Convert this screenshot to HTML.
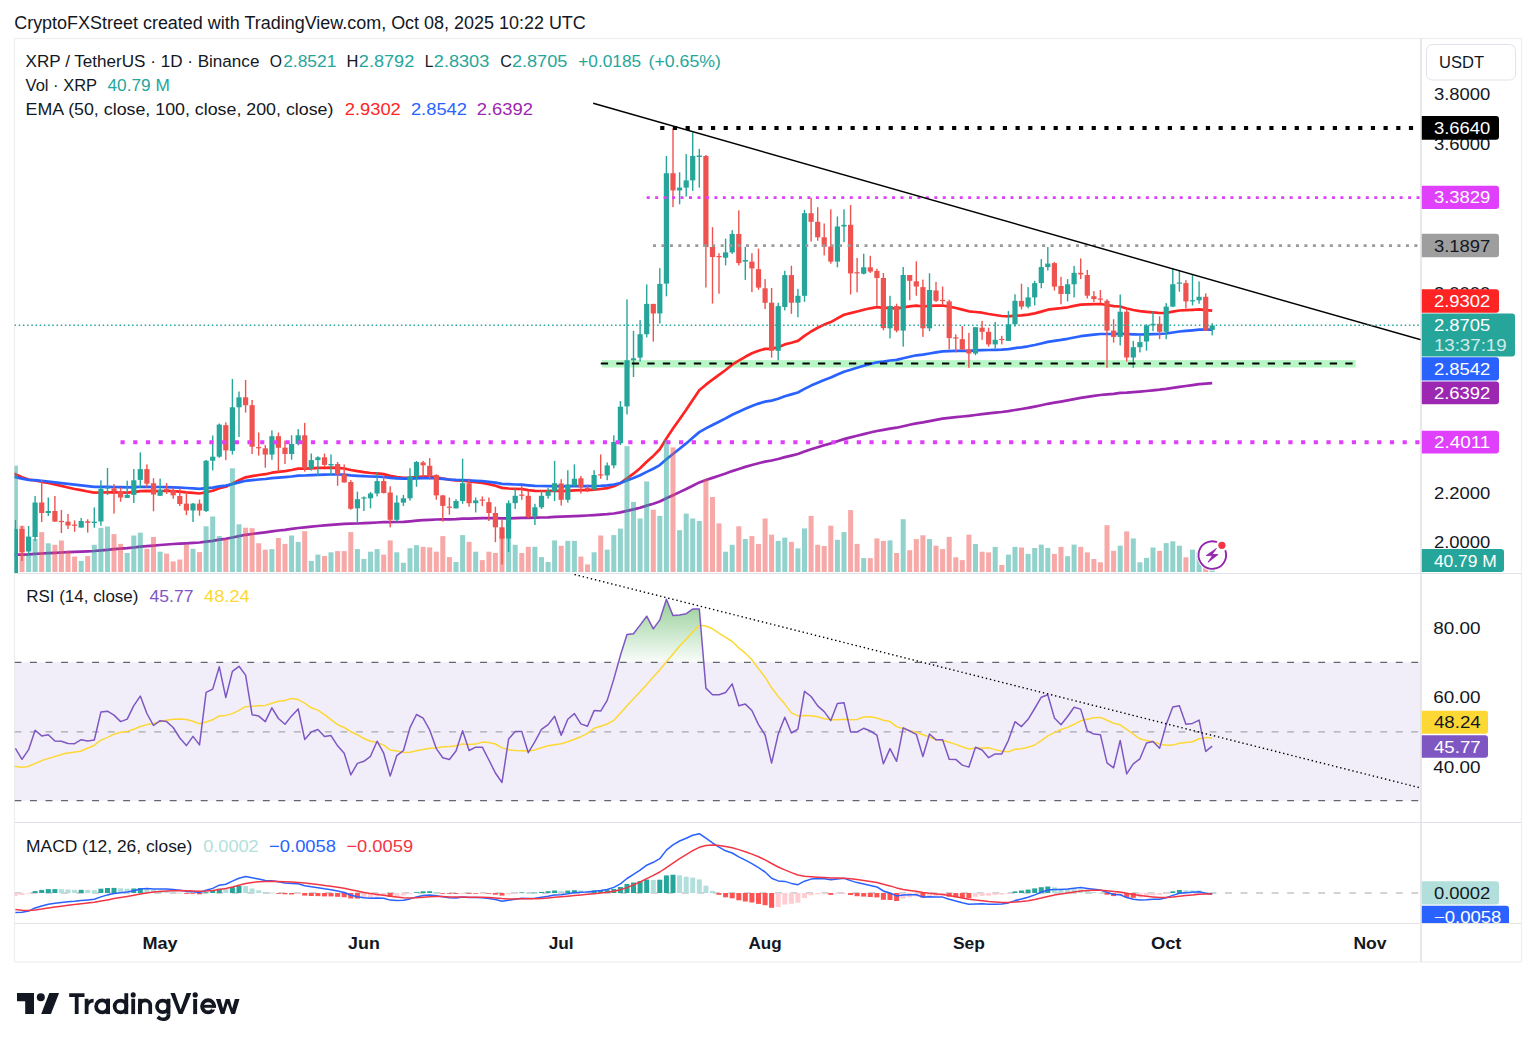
<!DOCTYPE html><html><head><meta charset="utf-8"><title>chart</title><style>
html,body{margin:0;padding:0;background:#fff;}body{width:1536px;height:1047px;overflow:hidden;position:relative;}
svg{position:absolute;left:0;top:0;} text{font-family:"Liberation Sans",sans-serif;}
</style></head><body>
<svg width="1536" height="1047" viewBox="0 0 1536 1047">
<defs>
<clipPath id="cm"><rect x="14.5" y="39" width="1406" height="534"/></clipPath>
<clipPath id="cr"><rect x="14.5" y="574" width="1406" height="248"/></clipPath>
<clipPath id="cd"><rect x="14.5" y="823" width="1406" height="100"/></clipPath>
<clipPath id="ca"><rect x="1421" y="39" width="100" height="884"/></clipPath>
<linearGradient id="gob" x1="0" y1="0" x2="0" y2="1"><stop offset="0" stop-color="#4caf50" stop-opacity="0.55"/><stop offset="1" stop-color="#4caf50" stop-opacity="0"/></linearGradient>
</defs>
<text x="14.2" y="28.7" font-size="17.5" fill="#131722" textLength="571.6" lengthAdjust="spacingAndGlyphs">CryptoFXStreet created with TradingView.com, Oct 08, 2025 10:22 UTC</text>
<rect x="14.5" y="38.5" width="1507" height="923.5" fill="none" stroke="#eeeeee" stroke-width="1.2"/>
<line x1="1421" y1="38.5" x2="1421" y2="962" stroke="#e2e2e2" stroke-width="1.6"/>
<line x1="14.5" y1="573.5" x2="1521.5" y2="573.5" stroke="#e0e3eb" stroke-width="1.2"/>
<line x1="14.5" y1="822.5" x2="1521.5" y2="822.5" stroke="#e0e3eb" stroke-width="1.2"/>
<line x1="14.5" y1="923.5" x2="1521.5" y2="923.5" stroke="#e4e4e4" stroke-width="1.2"/>
<g clip-path="url(#cm)">
<rect x="602" y="360.1" width="753.7" height="7.4" fill="#b9f6c6"/>
<polyline points="8.8,472.0 15.4,474.2 22.0,477.3 28.6,479.6 35.1,480.5 41.7,481.8 48.3,482.9 54.9,484.4 61.4,485.9 68.0,487.5 74.6,489.0 81.2,490.2 87.7,491.5 94.3,492.7 100.9,492.5 107.5,492.3 114.0,492.3 120.6,492.5 127.2,492.6 133.8,492.1 140.3,491.2 146.9,490.9 153.5,491.1 160.1,491.0 166.6,491.0 173.2,491.2 179.8,491.7 186.4,492.4 193.0,492.8 199.5,493.5 206.1,492.2 212.7,490.8 219.3,488.2 225.8,486.8 232.4,483.6 239.0,480.3 245.6,477.3 252.1,476.1 258.7,475.0 265.3,474.2 271.9,472.7 278.4,471.8 285.0,471.1 291.6,470.0 298.2,468.6 304.7,468.6 311.3,468.3 317.9,467.9 324.5,467.8 331.0,467.6 337.6,467.9 344.2,468.5 350.8,470.0 357.4,471.2 363.9,472.2 370.5,473.0 377.1,473.4 383.7,474.1 390.2,475.9 396.8,477.0 403.4,477.8 410.0,477.7 416.5,477.1 423.1,476.7 429.7,476.7 436.3,477.4 442.8,478.5 449.4,479.7 456.0,480.5 462.6,480.6 469.1,481.5 475.7,482.2 482.3,482.9 488.9,484.1 495.4,485.8 502.0,487.9 508.6,488.5 515.2,488.8 521.8,489.0 528.3,490.1 534.9,490.8 541.5,491.0 548.1,491.0 554.6,490.7 561.2,491.1 567.8,490.8 574.4,490.3 580.9,490.2 587.5,490.2 594.1,489.6 600.7,489.0 607.2,488.1 613.8,486.3 620.4,483.2 627.0,478.4 633.5,473.7 640.1,468.2 646.7,461.7 653.3,455.9 659.8,449.2 666.4,438.4 673.0,428.6 679.6,419.2 686.2,409.8 692.7,399.9 699.3,390.3 705.9,384.7 712.5,379.7 719.0,374.8 725.6,370.0 732.2,364.7 738.8,360.7 745.3,356.8 751.9,353.3 758.5,350.7 765.1,348.9 771.6,348.9 778.2,347.2 784.8,344.4 791.4,342.8 797.9,340.9 804.5,335.9 811.1,331.5 817.7,327.8 824.2,324.6 830.8,322.1 837.4,318.4 844.0,314.7 850.6,313.1 857.1,311.5 863.7,309.8 870.3,308.3 876.9,307.1 883.4,307.9 890.0,307.9 896.6,308.7 903.2,307.4 909.7,306.4 916.3,305.6 922.9,306.5 929.5,305.8 936.0,305.6 942.6,305.5 949.2,306.7 955.8,308.0 962.3,309.6 968.9,311.3 975.5,312.0 982.1,312.7 988.6,314.0 995.2,315.0 1001.8,316.0 1008.4,316.3 1015.0,315.7 1021.5,315.3 1028.1,314.6 1034.7,313.4 1041.3,311.6 1047.8,309.7 1054.4,308.8 1061.0,308.2 1067.6,307.3 1074.1,305.9 1080.7,304.7 1087.3,304.3 1093.9,304.1 1100.4,304.0 1107.0,305.0 1113.6,306.2 1120.2,306.5 1126.7,308.5 1133.3,310.0 1139.9,311.2 1146.5,311.8 1153.0,312.3 1159.6,313.0 1166.2,312.8 1172.8,311.7 1179.4,310.5 1185.9,310.2 1192.5,309.8 1199.1,309.3 1205.7,310.1 1212.2,310.7" fill="none" stroke="#ff2424" stroke-width="2.7" stroke-linejoin="round"/>
<polyline points="8.8,476.1 15.4,477.1 22.0,478.6 28.6,479.8 35.1,480.2 41.7,480.9 48.3,481.5 54.9,482.3 61.4,483.1 68.0,483.9 74.6,484.7 81.2,485.4 87.7,486.2 94.3,486.9 100.9,486.9 107.5,486.9 114.0,487.0 120.6,487.2 127.2,487.4 133.8,487.2 140.3,486.9 146.9,486.8 153.5,487.0 160.1,487.0 166.6,487.1 173.2,487.3 179.8,487.6 186.4,488.0 193.0,488.3 199.5,488.8 206.1,488.2 212.7,487.6 219.3,486.4 225.8,485.6 232.4,484.1 239.0,482.4 245.6,480.8 252.1,480.2 258.7,479.5 265.3,479.0 271.9,478.2 278.4,477.6 285.0,477.1 291.6,476.5 298.2,475.7 304.7,475.5 311.3,475.2 317.9,474.9 324.5,474.7 331.0,474.5 337.6,474.5 344.2,474.6 350.8,475.3 357.4,475.8 363.9,476.2 370.5,476.5 377.1,476.6 383.7,477.0 390.2,477.8 396.8,478.3 403.4,478.7 410.0,478.6 416.5,478.3 423.1,478.1 429.7,478.0 436.3,478.4 442.8,478.9 449.4,479.5 456.0,479.9 462.6,480.0 469.1,480.4 475.7,480.8 482.3,481.2 488.9,481.8 495.4,482.7 502.0,483.9 508.6,484.2 515.2,484.5 521.8,484.7 528.3,485.3 534.9,485.8 541.5,486.0 548.1,486.1 554.6,486.0 561.2,486.3 567.8,486.2 574.4,486.1 580.9,486.1 587.5,486.2 594.1,486.0 600.7,485.8 607.2,485.4 613.8,484.5 620.4,483.0 627.0,480.5 633.5,478.1 640.1,475.3 646.7,471.9 653.3,468.7 659.8,465.1 666.4,459.3 673.0,454.0 679.6,448.7 686.2,443.4 692.7,437.7 699.3,432.1 705.9,428.4 712.5,425.0 719.0,421.7 725.6,418.4 732.2,414.7 738.8,411.7 745.3,408.7 751.9,405.9 758.5,403.6 765.1,401.6 771.6,400.6 778.2,398.7 784.8,396.3 791.4,394.4 797.9,392.5 804.5,388.9 811.1,385.6 817.7,382.7 824.2,380.0 830.8,377.6 837.4,374.6 844.0,371.7 850.6,369.7 857.1,367.8 863.7,365.8 870.3,364.0 876.9,362.3 883.4,361.6 890.0,360.5 896.6,359.9 903.2,358.2 909.7,356.7 916.3,355.3 922.9,354.7 929.5,353.5 936.0,352.4 942.6,351.4 949.2,351.1 955.8,350.9 962.3,350.9 968.9,350.9 975.5,350.4 982.1,350.1 988.6,350.0 995.2,349.8 1001.8,349.6 1008.4,349.1 1015.0,348.1 1021.5,347.3 1028.1,346.3 1034.7,345.0 1041.3,343.5 1047.8,341.9 1054.4,340.8 1061.0,339.9 1067.6,338.8 1074.1,337.5 1080.7,336.2 1087.3,335.4 1093.9,334.7 1100.4,334.0 1107.0,334.0 1113.6,334.0 1120.2,333.6 1126.7,334.0 1133.3,334.3 1139.9,334.5 1146.5,334.3 1153.0,334.1 1159.6,334.0 1166.2,333.5 1172.8,332.5 1179.4,331.5 1185.9,330.9 1192.5,330.3 1199.1,329.7 1205.7,329.7 1212.2,329.6" fill="none" stroke="#2962ff" stroke-width="2.7" stroke-linejoin="round"/>
<polyline points="8.8,554.9 15.4,554.6 22.0,554.6 28.6,554.4 35.1,553.9 41.7,553.5 48.3,553.1 54.9,552.8 61.4,552.5 68.0,552.2 74.6,551.9 81.2,551.6 87.7,551.3 94.3,551.0 100.9,550.4 107.5,549.8 114.0,549.2 120.6,548.7 127.2,548.2 133.8,547.5 140.3,546.7 146.9,546.1 153.5,545.6 160.1,545.0 166.6,544.5 173.2,544.0 179.8,543.6 186.4,543.3 193.0,542.9 199.5,542.5 206.1,541.7 212.7,540.9 219.3,539.7 225.8,538.8 232.4,537.5 239.0,536.1 245.6,534.8 252.1,534.0 258.7,533.1 265.3,532.3 271.9,531.4 278.4,530.5 285.0,529.8 291.6,528.9 298.2,528.0 304.7,527.4 311.3,526.7 317.9,526.0 324.5,525.4 331.0,524.8 337.6,524.3 344.2,523.9 350.8,523.7 357.4,523.5 363.9,523.2 370.5,522.9 377.1,522.5 383.7,522.2 390.2,522.2 396.8,522.0 403.4,521.8 410.0,521.3 416.5,520.7 423.1,520.2 429.7,519.8 436.3,519.5 442.8,519.4 449.4,519.3 456.0,519.1 462.6,518.7 469.1,518.6 475.7,518.4 482.3,518.2 488.9,518.2 495.4,518.2 502.0,518.4 508.6,518.3 515.2,518.1 521.8,517.9 528.3,517.8 534.9,517.7 541.5,517.5 548.1,517.3 554.6,516.9 561.2,516.7 567.8,516.4 574.4,516.1 580.9,515.8 587.5,515.5 594.1,515.1 600.7,514.7 607.2,514.2 613.8,513.5 620.4,512.4 627.0,510.9 633.5,509.4 640.1,507.7 646.7,505.6 653.3,503.7 659.8,501.5 666.4,498.3 673.0,495.2 679.6,492.1 686.2,489.0 692.7,485.7 699.3,482.4 705.9,480.1 712.5,477.9 719.0,475.7 725.6,473.5 732.2,471.1 738.8,469.0 745.3,466.9 751.9,465.0 758.5,463.2 765.1,461.6 771.6,460.5 778.2,459.0 784.8,457.1 791.4,455.6 797.9,454.0 804.5,451.6 811.1,449.3 817.7,447.2 824.2,445.2 830.8,443.4 837.4,441.2 844.0,439.1 850.6,437.4 857.1,435.8 863.7,434.1 870.3,432.5 876.9,431.0 883.4,429.9 890.0,428.7 896.6,427.7 903.2,426.2 909.7,424.8 916.3,423.4 922.9,422.4 929.5,421.1 936.0,419.9 942.6,418.7 949.2,417.9 955.8,417.1 962.3,416.5 968.9,415.8 975.5,415.0 982.1,414.1 988.6,413.4 995.2,412.7 1001.8,412.0 1008.4,411.1 1015.0,410.0 1021.5,409.0 1028.1,407.9 1034.7,406.6 1041.3,405.2 1047.8,403.8 1054.4,402.7 1061.0,401.6 1067.6,400.4 1074.1,399.2 1080.7,397.9 1087.3,396.9 1093.9,395.9 1100.4,395.0 1107.0,394.3 1113.6,393.8 1120.2,392.9 1126.7,392.6 1133.3,392.1 1139.9,391.6 1146.5,391.0 1153.0,390.3 1159.6,389.7 1166.2,388.9 1172.8,387.9 1179.4,386.8 1185.9,386.0 1192.5,385.1 1199.1,384.2 1205.7,383.7 1212.2,383.1" fill="none" stroke="#9c27b0" stroke-width="2.7" stroke-linejoin="round"/>
<rect x="12.9" y="465.7" width="5" height="106.3" fill="#26a69a" fill-opacity="0.5"/>
<rect x="19.5" y="525.7" width="5" height="46.3" fill="#ef5350" fill-opacity="0.5"/>
<rect x="26.1" y="555.0" width="5" height="17.0" fill="#26a69a" fill-opacity="0.5"/>
<rect x="32.6" y="539.0" width="5" height="33.0" fill="#26a69a" fill-opacity="0.5"/>
<rect x="39.2" y="532.1" width="5" height="39.9" fill="#ef5350" fill-opacity="0.5"/>
<rect x="45.8" y="543.3" width="5" height="28.7" fill="#26a69a" fill-opacity="0.5"/>
<rect x="52.4" y="544.8" width="5" height="27.2" fill="#ef5350" fill-opacity="0.5"/>
<rect x="58.9" y="540.5" width="5" height="31.5" fill="#ef5350" fill-opacity="0.5"/>
<rect x="65.5" y="550.7" width="5" height="21.3" fill="#ef5350" fill-opacity="0.5"/>
<rect x="72.1" y="556.6" width="5" height="15.4" fill="#ef5350" fill-opacity="0.5"/>
<rect x="78.7" y="560.9" width="5" height="11.1" fill="#26a69a" fill-opacity="0.5"/>
<rect x="85.2" y="556.0" width="5" height="16.0" fill="#ef5350" fill-opacity="0.5"/>
<rect x="91.8" y="544.8" width="5" height="27.2" fill="#26a69a" fill-opacity="0.5"/>
<rect x="98.4" y="527.9" width="5" height="44.1" fill="#26a69a" fill-opacity="0.5"/>
<rect x="105.0" y="526.5" width="5" height="45.5" fill="#26a69a" fill-opacity="0.5"/>
<rect x="111.5" y="534.1" width="5" height="37.9" fill="#ef5350" fill-opacity="0.5"/>
<rect x="118.1" y="543.9" width="5" height="28.1" fill="#ef5350" fill-opacity="0.5"/>
<rect x="124.7" y="553.0" width="5" height="19.0" fill="#26a69a" fill-opacity="0.5"/>
<rect x="131.3" y="535.5" width="5" height="36.5" fill="#26a69a" fill-opacity="0.5"/>
<rect x="137.8" y="532.7" width="5" height="39.3" fill="#26a69a" fill-opacity="0.5"/>
<rect x="144.4" y="548.8" width="5" height="23.2" fill="#ef5350" fill-opacity="0.5"/>
<rect x="151.0" y="537.0" width="5" height="35.0" fill="#ef5350" fill-opacity="0.5"/>
<rect x="157.6" y="551.7" width="5" height="20.3" fill="#26a69a" fill-opacity="0.5"/>
<rect x="164.1" y="553.6" width="5" height="18.4" fill="#ef5350" fill-opacity="0.5"/>
<rect x="170.7" y="561.4" width="5" height="10.6" fill="#ef5350" fill-opacity="0.5"/>
<rect x="177.3" y="559.5" width="5" height="12.5" fill="#ef5350" fill-opacity="0.5"/>
<rect x="183.9" y="544.8" width="5" height="27.2" fill="#ef5350" fill-opacity="0.5"/>
<rect x="190.5" y="548.8" width="5" height="23.2" fill="#26a69a" fill-opacity="0.5"/>
<rect x="197.0" y="552.1" width="5" height="19.9" fill="#ef5350" fill-opacity="0.5"/>
<rect x="203.6" y="526.3" width="5" height="45.7" fill="#26a69a" fill-opacity="0.5"/>
<rect x="210.2" y="516.5" width="5" height="55.5" fill="#26a69a" fill-opacity="0.5"/>
<rect x="216.8" y="536.1" width="5" height="35.9" fill="#26a69a" fill-opacity="0.5"/>
<rect x="223.3" y="539.0" width="5" height="33.0" fill="#ef5350" fill-opacity="0.5"/>
<rect x="229.9" y="468.3" width="5" height="103.7" fill="#26a69a" fill-opacity="0.5"/>
<rect x="236.5" y="524.3" width="5" height="47.7" fill="#26a69a" fill-opacity="0.5"/>
<rect x="243.1" y="527.7" width="5" height="44.3" fill="#ef5350" fill-opacity="0.5"/>
<rect x="249.6" y="528.2" width="5" height="43.8" fill="#ef5350" fill-opacity="0.5"/>
<rect x="256.2" y="543.3" width="5" height="28.7" fill="#ef5350" fill-opacity="0.5"/>
<rect x="262.8" y="549.7" width="5" height="22.3" fill="#ef5350" fill-opacity="0.5"/>
<rect x="269.4" y="549.1" width="5" height="22.9" fill="#26a69a" fill-opacity="0.5"/>
<rect x="275.9" y="538.0" width="5" height="34.0" fill="#ef5350" fill-opacity="0.5"/>
<rect x="282.5" y="543.9" width="5" height="28.1" fill="#ef5350" fill-opacity="0.5"/>
<rect x="289.1" y="535.5" width="5" height="36.5" fill="#26a69a" fill-opacity="0.5"/>
<rect x="295.7" y="541.9" width="5" height="30.1" fill="#26a69a" fill-opacity="0.5"/>
<rect x="302.2" y="531.2" width="5" height="40.8" fill="#ef5350" fill-opacity="0.5"/>
<rect x="308.8" y="560.9" width="5" height="11.1" fill="#26a69a" fill-opacity="0.5"/>
<rect x="315.4" y="554.6" width="5" height="17.4" fill="#26a69a" fill-opacity="0.5"/>
<rect x="322.0" y="556.0" width="5" height="16.0" fill="#ef5350" fill-opacity="0.5"/>
<rect x="328.5" y="552.3" width="5" height="19.7" fill="#26a69a" fill-opacity="0.5"/>
<rect x="335.1" y="551.1" width="5" height="20.9" fill="#ef5350" fill-opacity="0.5"/>
<rect x="341.7" y="551.1" width="5" height="20.9" fill="#ef5350" fill-opacity="0.5"/>
<rect x="348.3" y="532.1" width="5" height="39.9" fill="#ef5350" fill-opacity="0.5"/>
<rect x="354.9" y="549.1" width="5" height="22.9" fill="#26a69a" fill-opacity="0.5"/>
<rect x="361.4" y="558.9" width="5" height="13.1" fill="#26a69a" fill-opacity="0.5"/>
<rect x="368.0" y="551.7" width="5" height="20.3" fill="#26a69a" fill-opacity="0.5"/>
<rect x="374.6" y="549.1" width="5" height="22.9" fill="#26a69a" fill-opacity="0.5"/>
<rect x="381.2" y="554.6" width="5" height="17.4" fill="#ef5350" fill-opacity="0.5"/>
<rect x="387.7" y="540.4" width="5" height="31.6" fill="#ef5350" fill-opacity="0.5"/>
<rect x="394.3" y="552.3" width="5" height="19.7" fill="#26a69a" fill-opacity="0.5"/>
<rect x="400.9" y="562.8" width="5" height="9.2" fill="#26a69a" fill-opacity="0.5"/>
<rect x="407.5" y="548.2" width="5" height="23.8" fill="#26a69a" fill-opacity="0.5"/>
<rect x="414.0" y="545.2" width="5" height="26.8" fill="#26a69a" fill-opacity="0.5"/>
<rect x="420.6" y="546.8" width="5" height="25.2" fill="#ef5350" fill-opacity="0.5"/>
<rect x="427.2" y="547.4" width="5" height="24.6" fill="#ef5350" fill-opacity="0.5"/>
<rect x="433.8" y="551.7" width="5" height="20.3" fill="#ef5350" fill-opacity="0.5"/>
<rect x="440.3" y="536.1" width="5" height="35.9" fill="#ef5350" fill-opacity="0.5"/>
<rect x="446.9" y="557.1" width="5" height="14.9" fill="#ef5350" fill-opacity="0.5"/>
<rect x="453.5" y="562.0" width="5" height="10.0" fill="#26a69a" fill-opacity="0.5"/>
<rect x="460.1" y="535.1" width="5" height="36.9" fill="#26a69a" fill-opacity="0.5"/>
<rect x="466.6" y="541.9" width="5" height="30.1" fill="#ef5350" fill-opacity="0.5"/>
<rect x="473.2" y="551.7" width="5" height="20.3" fill="#26a69a" fill-opacity="0.5"/>
<rect x="479.8" y="560.1" width="5" height="11.9" fill="#ef5350" fill-opacity="0.5"/>
<rect x="486.4" y="551.7" width="5" height="20.3" fill="#ef5350" fill-opacity="0.5"/>
<rect x="492.9" y="553.0" width="5" height="19.0" fill="#ef5350" fill-opacity="0.5"/>
<rect x="499.5" y="536.0" width="5" height="36.0" fill="#ef5350" fill-opacity="0.5"/>
<rect x="506.1" y="539.0" width="5" height="33.0" fill="#26a69a" fill-opacity="0.5"/>
<rect x="512.7" y="544.8" width="5" height="27.2" fill="#26a69a" fill-opacity="0.5"/>
<rect x="519.3" y="553.0" width="5" height="19.0" fill="#ef5350" fill-opacity="0.5"/>
<rect x="525.8" y="546.8" width="5" height="25.2" fill="#ef5350" fill-opacity="0.5"/>
<rect x="532.4" y="546.8" width="5" height="25.2" fill="#26a69a" fill-opacity="0.5"/>
<rect x="539.0" y="557.1" width="5" height="14.9" fill="#26a69a" fill-opacity="0.5"/>
<rect x="545.6" y="562.0" width="5" height="10.0" fill="#26a69a" fill-opacity="0.5"/>
<rect x="552.1" y="540.4" width="5" height="31.6" fill="#26a69a" fill-opacity="0.5"/>
<rect x="558.7" y="545.8" width="5" height="26.2" fill="#ef5350" fill-opacity="0.5"/>
<rect x="565.3" y="540.9" width="5" height="31.1" fill="#26a69a" fill-opacity="0.5"/>
<rect x="571.9" y="540.9" width="5" height="31.1" fill="#26a69a" fill-opacity="0.5"/>
<rect x="578.4" y="556.6" width="5" height="15.4" fill="#ef5350" fill-opacity="0.5"/>
<rect x="585.0" y="564.4" width="5" height="7.6" fill="#ef5350" fill-opacity="0.5"/>
<rect x="591.6" y="552.3" width="5" height="19.7" fill="#26a69a" fill-opacity="0.5"/>
<rect x="598.2" y="535.5" width="5" height="36.5" fill="#ef5350" fill-opacity="0.5"/>
<rect x="604.7" y="549.7" width="5" height="22.3" fill="#26a69a" fill-opacity="0.5"/>
<rect x="611.3" y="535.1" width="5" height="36.9" fill="#26a69a" fill-opacity="0.5"/>
<rect x="617.9" y="528.6" width="5" height="43.4" fill="#26a69a" fill-opacity="0.5"/>
<rect x="624.5" y="446.2" width="5" height="125.8" fill="#26a69a" fill-opacity="0.5"/>
<rect x="631.0" y="501.9" width="5" height="70.1" fill="#26a69a" fill-opacity="0.5"/>
<rect x="637.6" y="518.5" width="5" height="53.5" fill="#26a69a" fill-opacity="0.5"/>
<rect x="644.2" y="481.4" width="5" height="90.6" fill="#26a69a" fill-opacity="0.5"/>
<rect x="650.8" y="509.7" width="5" height="62.3" fill="#ef5350" fill-opacity="0.5"/>
<rect x="657.3" y="515.9" width="5" height="56.1" fill="#26a69a" fill-opacity="0.5"/>
<rect x="663.9" y="440.1" width="5" height="131.9" fill="#26a69a" fill-opacity="0.5"/>
<rect x="670.5" y="447.4" width="5" height="124.6" fill="#ef5350" fill-opacity="0.5"/>
<rect x="677.1" y="530.2" width="5" height="41.8" fill="#26a69a" fill-opacity="0.5"/>
<rect x="683.7" y="513.6" width="5" height="58.4" fill="#26a69a" fill-opacity="0.5"/>
<rect x="690.2" y="518.5" width="5" height="53.5" fill="#26a69a" fill-opacity="0.5"/>
<rect x="696.8" y="521.0" width="5" height="51.0" fill="#26a69a" fill-opacity="0.5"/>
<rect x="703.4" y="479.4" width="5" height="92.6" fill="#ef5350" fill-opacity="0.5"/>
<rect x="710.0" y="497.0" width="5" height="75.0" fill="#ef5350" fill-opacity="0.5"/>
<rect x="716.5" y="523.4" width="5" height="48.6" fill="#ef5350" fill-opacity="0.5"/>
<rect x="723.1" y="551.7" width="5" height="20.3" fill="#26a69a" fill-opacity="0.5"/>
<rect x="729.7" y="544.8" width="5" height="27.2" fill="#26a69a" fill-opacity="0.5"/>
<rect x="736.3" y="526.3" width="5" height="45.7" fill="#ef5350" fill-opacity="0.5"/>
<rect x="742.8" y="539.0" width="5" height="33.0" fill="#26a69a" fill-opacity="0.5"/>
<rect x="749.4" y="536.1" width="5" height="35.9" fill="#ef5350" fill-opacity="0.5"/>
<rect x="756.0" y="543.9" width="5" height="28.1" fill="#ef5350" fill-opacity="0.5"/>
<rect x="762.6" y="518.5" width="5" height="53.5" fill="#ef5350" fill-opacity="0.5"/>
<rect x="769.1" y="534.7" width="5" height="37.3" fill="#ef5350" fill-opacity="0.5"/>
<rect x="775.7" y="540.9" width="5" height="31.1" fill="#26a69a" fill-opacity="0.5"/>
<rect x="782.3" y="537.6" width="5" height="34.4" fill="#26a69a" fill-opacity="0.5"/>
<rect x="788.9" y="541.9" width="5" height="30.1" fill="#ef5350" fill-opacity="0.5"/>
<rect x="795.4" y="548.4" width="5" height="23.6" fill="#26a69a" fill-opacity="0.5"/>
<rect x="802.0" y="528.4" width="5" height="43.6" fill="#26a69a" fill-opacity="0.5"/>
<rect x="808.6" y="515.9" width="5" height="56.1" fill="#ef5350" fill-opacity="0.5"/>
<rect x="815.2" y="544.8" width="5" height="27.2" fill="#ef5350" fill-opacity="0.5"/>
<rect x="821.7" y="546.0" width="5" height="26.0" fill="#ef5350" fill-opacity="0.5"/>
<rect x="828.3" y="525.7" width="5" height="46.3" fill="#ef5350" fill-opacity="0.5"/>
<rect x="834.9" y="539.8" width="5" height="32.2" fill="#26a69a" fill-opacity="0.5"/>
<rect x="841.5" y="532.1" width="5" height="39.9" fill="#26a69a" fill-opacity="0.5"/>
<rect x="848.1" y="510.1" width="5" height="61.9" fill="#ef5350" fill-opacity="0.5"/>
<rect x="854.6" y="543.9" width="5" height="28.1" fill="#ef5350" fill-opacity="0.5"/>
<rect x="861.2" y="558.1" width="5" height="13.9" fill="#26a69a" fill-opacity="0.5"/>
<rect x="867.8" y="558.1" width="5" height="13.9" fill="#ef5350" fill-opacity="0.5"/>
<rect x="874.4" y="538.4" width="5" height="33.6" fill="#ef5350" fill-opacity="0.5"/>
<rect x="880.9" y="540.9" width="5" height="31.1" fill="#ef5350" fill-opacity="0.5"/>
<rect x="887.5" y="540.4" width="5" height="31.6" fill="#26a69a" fill-opacity="0.5"/>
<rect x="894.1" y="553.0" width="5" height="19.0" fill="#ef5350" fill-opacity="0.5"/>
<rect x="900.7" y="519.2" width="5" height="52.8" fill="#26a69a" fill-opacity="0.5"/>
<rect x="907.2" y="550.2" width="5" height="21.8" fill="#ef5350" fill-opacity="0.5"/>
<rect x="913.8" y="539.1" width="5" height="32.9" fill="#ef5350" fill-opacity="0.5"/>
<rect x="920.4" y="535.3" width="5" height="36.7" fill="#ef5350" fill-opacity="0.5"/>
<rect x="927.0" y="539.1" width="5" height="32.9" fill="#26a69a" fill-opacity="0.5"/>
<rect x="933.5" y="545.7" width="5" height="26.3" fill="#ef5350" fill-opacity="0.5"/>
<rect x="940.1" y="549.1" width="5" height="22.9" fill="#ef5350" fill-opacity="0.5"/>
<rect x="946.7" y="536.9" width="5" height="35.1" fill="#ef5350" fill-opacity="0.5"/>
<rect x="953.3" y="557.3" width="5" height="14.7" fill="#ef5350" fill-opacity="0.5"/>
<rect x="959.8" y="560.1" width="5" height="11.9" fill="#ef5350" fill-opacity="0.5"/>
<rect x="966.4" y="534.7" width="5" height="37.3" fill="#ef5350" fill-opacity="0.5"/>
<rect x="973.0" y="544.0" width="5" height="28.0" fill="#26a69a" fill-opacity="0.5"/>
<rect x="979.6" y="551.7" width="5" height="20.3" fill="#ef5350" fill-opacity="0.5"/>
<rect x="986.1" y="552.4" width="5" height="19.6" fill="#ef5350" fill-opacity="0.5"/>
<rect x="992.7" y="546.9" width="5" height="25.1" fill="#26a69a" fill-opacity="0.5"/>
<rect x="999.3" y="565.0" width="5" height="7.0" fill="#ef5350" fill-opacity="0.5"/>
<rect x="1005.9" y="554.6" width="5" height="17.4" fill="#26a69a" fill-opacity="0.5"/>
<rect x="1012.5" y="546.9" width="5" height="25.1" fill="#26a69a" fill-opacity="0.5"/>
<rect x="1019.0" y="547.5" width="5" height="24.5" fill="#ef5350" fill-opacity="0.5"/>
<rect x="1025.6" y="553.9" width="5" height="18.1" fill="#26a69a" fill-opacity="0.5"/>
<rect x="1032.2" y="548.0" width="5" height="24.0" fill="#26a69a" fill-opacity="0.5"/>
<rect x="1038.8" y="544.6" width="5" height="27.4" fill="#26a69a" fill-opacity="0.5"/>
<rect x="1045.3" y="548.0" width="5" height="24.0" fill="#26a69a" fill-opacity="0.5"/>
<rect x="1051.9" y="553.9" width="5" height="18.1" fill="#ef5350" fill-opacity="0.5"/>
<rect x="1058.5" y="546.9" width="5" height="25.1" fill="#ef5350" fill-opacity="0.5"/>
<rect x="1065.1" y="556.2" width="5" height="15.8" fill="#26a69a" fill-opacity="0.5"/>
<rect x="1071.6" y="544.6" width="5" height="27.4" fill="#26a69a" fill-opacity="0.5"/>
<rect x="1078.2" y="546.9" width="5" height="25.1" fill="#ef5350" fill-opacity="0.5"/>
<rect x="1084.8" y="552.4" width="5" height="19.6" fill="#ef5350" fill-opacity="0.5"/>
<rect x="1091.4" y="559.0" width="5" height="13.0" fill="#ef5350" fill-opacity="0.5"/>
<rect x="1097.9" y="562.3" width="5" height="9.7" fill="#ef5350" fill-opacity="0.5"/>
<rect x="1104.5" y="525.2" width="5" height="46.8" fill="#ef5350" fill-opacity="0.5"/>
<rect x="1111.1" y="550.8" width="5" height="21.2" fill="#ef5350" fill-opacity="0.5"/>
<rect x="1117.7" y="545.7" width="5" height="26.3" fill="#26a69a" fill-opacity="0.5"/>
<rect x="1124.2" y="531.4" width="5" height="40.6" fill="#ef5350" fill-opacity="0.5"/>
<rect x="1130.8" y="538.4" width="5" height="33.6" fill="#26a69a" fill-opacity="0.5"/>
<rect x="1137.4" y="562.3" width="5" height="9.7" fill="#26a69a" fill-opacity="0.5"/>
<rect x="1144.0" y="557.9" width="5" height="14.1" fill="#26a69a" fill-opacity="0.5"/>
<rect x="1150.5" y="547.5" width="5" height="24.5" fill="#26a69a" fill-opacity="0.5"/>
<rect x="1157.1" y="550.8" width="5" height="21.2" fill="#ef5350" fill-opacity="0.5"/>
<rect x="1163.7" y="543.1" width="5" height="28.9" fill="#26a69a" fill-opacity="0.5"/>
<rect x="1170.3" y="541.3" width="5" height="30.7" fill="#26a69a" fill-opacity="0.5"/>
<rect x="1176.9" y="545.7" width="5" height="26.3" fill="#26a69a" fill-opacity="0.5"/>
<rect x="1183.4" y="557.3" width="5" height="14.7" fill="#ef5350" fill-opacity="0.5"/>
<rect x="1190.0" y="549.7" width="5" height="22.3" fill="#26a69a" fill-opacity="0.5"/>
<rect x="1196.6" y="552.0" width="5" height="20.0" fill="#26a69a" fill-opacity="0.5"/>
<rect x="1203.2" y="555.0" width="5" height="17.0" fill="#ef5350" fill-opacity="0.5"/>
<rect x="1209.7" y="565.0" width="5" height="7.0" fill="#26a69a" fill-opacity="0.5"/>
<rect x="14.7" y="520.0" width="1.4" height="70.0" fill="#26a69a"/>
<rect x="12.8" y="529.0" width="5.2" height="61.0" fill="#26a69a"/>
<rect x="21.3" y="526.0" width="1.4" height="35.0" fill="#ef5350"/>
<rect x="19.4" y="529.0" width="5.2" height="23.0" fill="#ef5350"/>
<rect x="27.9" y="526.0" width="1.4" height="30.0" fill="#26a69a"/>
<rect x="26.0" y="536.6" width="5.2" height="14.9" fill="#26a69a"/>
<rect x="34.4" y="496.0" width="1.4" height="45.0" fill="#26a69a"/>
<rect x="32.5" y="502.5" width="5.2" height="34.5" fill="#26a69a"/>
<rect x="41.0" y="480.0" width="1.4" height="42.0" fill="#ef5350"/>
<rect x="39.1" y="502.5" width="5.2" height="10.5" fill="#ef5350"/>
<rect x="47.6" y="497.5" width="1.4" height="18.5" fill="#26a69a"/>
<rect x="45.7" y="511.0" width="5.2" height="2.0" fill="#26a69a"/>
<rect x="54.2" y="496.0" width="1.4" height="26.0" fill="#ef5350"/>
<rect x="52.3" y="511.0" width="5.2" height="10.6" fill="#ef5350"/>
<rect x="60.7" y="510.0" width="1.4" height="23.0" fill="#ef5350"/>
<rect x="58.8" y="520.9" width="5.2" height="1.2" fill="#ef5350"/>
<rect x="67.3" y="514.0" width="1.4" height="15.0" fill="#ef5350"/>
<rect x="65.4" y="521.6" width="5.2" height="3.9" fill="#ef5350"/>
<rect x="73.9" y="520.4" width="1.4" height="11.4" fill="#ef5350"/>
<rect x="72.0" y="524.6" width="5.2" height="1.2" fill="#ef5350"/>
<rect x="80.5" y="518.0" width="1.4" height="9.6" fill="#26a69a"/>
<rect x="78.6" y="521.0" width="5.2" height="6.6" fill="#26a69a"/>
<rect x="87.0" y="519.3" width="1.4" height="13.3" fill="#ef5350"/>
<rect x="85.1" y="521.3" width="5.2" height="1.5" fill="#ef5350"/>
<rect x="93.6" y="507.4" width="1.4" height="20.3" fill="#26a69a"/>
<rect x="91.7" y="521.6" width="5.2" height="1.4" fill="#26a69a"/>
<rect x="100.2" y="480.3" width="1.4" height="45.4" fill="#26a69a"/>
<rect x="98.3" y="488.7" width="5.2" height="32.8" fill="#26a69a"/>
<rect x="106.8" y="468.0" width="1.4" height="27.0" fill="#26a69a"/>
<rect x="104.9" y="487.4" width="5.2" height="1.2" fill="#26a69a"/>
<rect x="113.3" y="484.0" width="1.4" height="29.5" fill="#ef5350"/>
<rect x="111.4" y="488.3" width="5.2" height="3.0" fill="#ef5350"/>
<rect x="119.9" y="487.5" width="1.4" height="14.2" fill="#ef5350"/>
<rect x="118.0" y="491.3" width="5.2" height="6.2" fill="#ef5350"/>
<rect x="126.5" y="480.7" width="1.4" height="17.3" fill="#26a69a"/>
<rect x="124.6" y="494.9" width="5.2" height="3.0" fill="#26a69a"/>
<rect x="133.1" y="469.0" width="1.4" height="34.0" fill="#26a69a"/>
<rect x="131.2" y="480.3" width="5.2" height="14.6" fill="#26a69a"/>
<rect x="139.6" y="452.4" width="1.4" height="35.6" fill="#26a69a"/>
<rect x="137.7" y="469.1" width="5.2" height="10.8" fill="#26a69a"/>
<rect x="146.2" y="464.4" width="1.4" height="22.8" fill="#ef5350"/>
<rect x="144.3" y="469.1" width="5.2" height="14.6" fill="#ef5350"/>
<rect x="152.8" y="478.2" width="1.4" height="33.1" fill="#ef5350"/>
<rect x="150.9" y="483.3" width="5.2" height="11.2" fill="#ef5350"/>
<rect x="159.4" y="478.6" width="1.4" height="17.2" fill="#26a69a"/>
<rect x="157.5" y="489.8" width="5.2" height="6.0" fill="#26a69a"/>
<rect x="165.9" y="483.0" width="1.4" height="11.0" fill="#ef5350"/>
<rect x="164.0" y="489.0" width="5.2" height="1.5" fill="#ef5350"/>
<rect x="172.5" y="487.6" width="1.4" height="11.2" fill="#ef5350"/>
<rect x="170.6" y="490.2" width="5.2" height="5.1" fill="#ef5350"/>
<rect x="179.1" y="488.0" width="1.4" height="18.0" fill="#ef5350"/>
<rect x="177.2" y="496.0" width="5.2" height="8.0" fill="#ef5350"/>
<rect x="185.7" y="492.2" width="1.4" height="22.9" fill="#ef5350"/>
<rect x="183.8" y="503.6" width="5.2" height="6.9" fill="#ef5350"/>
<rect x="192.3" y="503.0" width="1.4" height="19.0" fill="#26a69a"/>
<rect x="190.4" y="503.6" width="5.2" height="6.9" fill="#26a69a"/>
<rect x="198.8" y="499.6" width="1.4" height="16.1" fill="#ef5350"/>
<rect x="196.9" y="503.6" width="5.2" height="6.9" fill="#ef5350"/>
<rect x="205.4" y="460.0" width="1.4" height="52.0" fill="#26a69a"/>
<rect x="203.5" y="460.7" width="5.2" height="50.3" fill="#26a69a"/>
<rect x="212.0" y="435.5" width="1.4" height="34.9" fill="#26a69a"/>
<rect x="210.1" y="456.7" width="5.2" height="4.0" fill="#26a69a"/>
<rect x="218.6" y="423.5" width="1.4" height="34.3" fill="#26a69a"/>
<rect x="216.7" y="424.6" width="5.2" height="32.1" fill="#26a69a"/>
<rect x="225.1" y="422.3" width="1.4" height="37.8" fill="#ef5350"/>
<rect x="223.2" y="425.2" width="5.2" height="25.2" fill="#ef5350"/>
<rect x="231.7" y="379.0" width="1.4" height="75.6" fill="#26a69a"/>
<rect x="229.8" y="407.3" width="5.2" height="43.6" fill="#26a69a"/>
<rect x="238.3" y="391.5" width="1.4" height="45.5" fill="#26a69a"/>
<rect x="236.4" y="397.3" width="5.2" height="10.0" fill="#26a69a"/>
<rect x="244.9" y="380.0" width="1.4" height="32.6" fill="#ef5350"/>
<rect x="243.0" y="397.3" width="5.2" height="7.9" fill="#ef5350"/>
<rect x="251.4" y="400.0" width="1.4" height="54.0" fill="#ef5350"/>
<rect x="249.5" y="405.2" width="5.2" height="41.5" fill="#ef5350"/>
<rect x="258.0" y="432.5" width="1.4" height="23.1" fill="#ef5350"/>
<rect x="256.1" y="447.1" width="5.2" height="1.2" fill="#ef5350"/>
<rect x="264.6" y="445.1" width="1.4" height="22.6" fill="#ef5350"/>
<rect x="262.7" y="448.3" width="5.2" height="6.3" fill="#ef5350"/>
<rect x="271.2" y="430.4" width="1.4" height="29.4" fill="#26a69a"/>
<rect x="269.3" y="436.2" width="5.2" height="18.4" fill="#26a69a"/>
<rect x="277.7" y="432.5" width="1.4" height="39.4" fill="#ef5350"/>
<rect x="275.8" y="436.2" width="5.2" height="11.6" fill="#ef5350"/>
<rect x="284.3" y="440.6" width="1.4" height="23.4" fill="#ef5350"/>
<rect x="282.4" y="447.7" width="5.2" height="6.3" fill="#ef5350"/>
<rect x="290.9" y="435.3" width="1.4" height="24.4" fill="#26a69a"/>
<rect x="289.0" y="444.0" width="5.2" height="10.0" fill="#26a69a"/>
<rect x="297.5" y="429.1" width="1.4" height="16.2" fill="#26a69a"/>
<rect x="295.6" y="435.3" width="5.2" height="8.6" fill="#26a69a"/>
<rect x="304.0" y="422.9" width="1.4" height="48.7" fill="#ef5350"/>
<rect x="302.1" y="435.3" width="5.2" height="33.4" fill="#ef5350"/>
<rect x="310.6" y="453.5" width="1.4" height="17.1" fill="#26a69a"/>
<rect x="308.7" y="460.1" width="5.2" height="8.6" fill="#26a69a"/>
<rect x="317.2" y="456.3" width="1.4" height="19.6" fill="#26a69a"/>
<rect x="315.3" y="457.3" width="5.2" height="2.8" fill="#26a69a"/>
<rect x="323.8" y="453.5" width="1.4" height="13.8" fill="#ef5350"/>
<rect x="321.9" y="457.3" width="5.2" height="7.6" fill="#ef5350"/>
<rect x="330.3" y="454.4" width="1.4" height="21.5" fill="#26a69a"/>
<rect x="328.4" y="464.0" width="5.2" height="1.4" fill="#26a69a"/>
<rect x="336.9" y="462.0" width="1.4" height="23.8" fill="#ef5350"/>
<rect x="335.0" y="464.0" width="5.2" height="10.5" fill="#ef5350"/>
<rect x="343.5" y="464.4" width="1.4" height="18.1" fill="#ef5350"/>
<rect x="341.6" y="474.4" width="5.2" height="8.1" fill="#ef5350"/>
<rect x="350.1" y="480.1" width="1.4" height="29.6" fill="#ef5350"/>
<rect x="348.2" y="482.0" width="5.2" height="26.8" fill="#ef5350"/>
<rect x="356.7" y="491.6" width="1.4" height="31.0" fill="#26a69a"/>
<rect x="354.8" y="499.2" width="5.2" height="9.1" fill="#26a69a"/>
<rect x="363.2" y="496.4" width="1.4" height="14.6" fill="#26a69a"/>
<rect x="361.3" y="497.4" width="5.2" height="1.2" fill="#26a69a"/>
<rect x="369.8" y="492.0" width="1.4" height="16.3" fill="#26a69a"/>
<rect x="367.9" y="493.5" width="5.2" height="4.8" fill="#26a69a"/>
<rect x="376.4" y="472.0" width="1.4" height="24.4" fill="#26a69a"/>
<rect x="374.5" y="481.1" width="5.2" height="12.4" fill="#26a69a"/>
<rect x="383.0" y="475.8" width="1.4" height="17.7" fill="#ef5350"/>
<rect x="381.1" y="481.1" width="5.2" height="11.9" fill="#ef5350"/>
<rect x="389.5" y="486.3" width="1.4" height="41.1" fill="#ef5350"/>
<rect x="387.6" y="492.5" width="5.2" height="27.3" fill="#ef5350"/>
<rect x="396.1" y="495.4" width="1.4" height="26.3" fill="#26a69a"/>
<rect x="394.2" y="502.6" width="5.2" height="17.2" fill="#26a69a"/>
<rect x="402.7" y="494.9" width="1.4" height="11.0" fill="#26a69a"/>
<rect x="400.8" y="498.3" width="5.2" height="4.3" fill="#26a69a"/>
<rect x="409.3" y="468.2" width="1.4" height="32.4" fill="#26a69a"/>
<rect x="407.4" y="476.3" width="5.2" height="22.0" fill="#26a69a"/>
<rect x="415.8" y="461.0" width="1.4" height="25.8" fill="#26a69a"/>
<rect x="413.9" y="462.0" width="5.2" height="14.3" fill="#26a69a"/>
<rect x="422.4" y="461.0" width="1.4" height="15.8" fill="#ef5350"/>
<rect x="420.5" y="462.4" width="5.2" height="2.9" fill="#ef5350"/>
<rect x="429.0" y="458.1" width="1.4" height="21.5" fill="#ef5350"/>
<rect x="427.1" y="465.8" width="5.2" height="10.5" fill="#ef5350"/>
<rect x="435.6" y="474.4" width="1.4" height="25.3" fill="#ef5350"/>
<rect x="433.7" y="474.9" width="5.2" height="20.5" fill="#ef5350"/>
<rect x="442.1" y="494.9" width="1.4" height="26.8" fill="#ef5350"/>
<rect x="440.2" y="495.4" width="5.2" height="10.5" fill="#ef5350"/>
<rect x="448.7" y="497.5" width="1.4" height="17.2" fill="#ef5350"/>
<rect x="446.8" y="506.6" width="5.2" height="1.2" fill="#ef5350"/>
<rect x="455.3" y="499.2" width="1.4" height="9.2" fill="#26a69a"/>
<rect x="453.4" y="501.0" width="5.2" height="7.4" fill="#26a69a"/>
<rect x="461.9" y="458.6" width="1.4" height="45.2" fill="#26a69a"/>
<rect x="460.0" y="483.2" width="5.2" height="17.8" fill="#26a69a"/>
<rect x="468.4" y="478.6" width="1.4" height="28.1" fill="#ef5350"/>
<rect x="466.5" y="483.2" width="5.2" height="20.0" fill="#ef5350"/>
<rect x="475.0" y="497.5" width="1.4" height="14.9" fill="#26a69a"/>
<rect x="473.1" y="500.4" width="5.2" height="2.8" fill="#26a69a"/>
<rect x="481.6" y="496.4" width="1.4" height="9.7" fill="#ef5350"/>
<rect x="479.7" y="499.5" width="5.2" height="1.2" fill="#ef5350"/>
<rect x="488.2" y="497.5" width="1.4" height="23.5" fill="#ef5350"/>
<rect x="486.3" y="502.1" width="5.2" height="10.9" fill="#ef5350"/>
<rect x="494.7" y="506.7" width="1.4" height="35.5" fill="#ef5350"/>
<rect x="492.8" y="513.0" width="5.2" height="14.3" fill="#ef5350"/>
<rect x="501.3" y="519.9" width="1.4" height="44.6" fill="#ef5350"/>
<rect x="499.4" y="527.3" width="5.2" height="11.4" fill="#ef5350"/>
<rect x="507.9" y="500.4" width="1.4" height="51.6" fill="#26a69a"/>
<rect x="506.0" y="503.2" width="5.2" height="35.5" fill="#26a69a"/>
<rect x="514.5" y="488.4" width="1.4" height="20.6" fill="#26a69a"/>
<rect x="512.6" y="495.8" width="5.2" height="7.4" fill="#26a69a"/>
<rect x="521.1" y="485.5" width="1.4" height="14.3" fill="#ef5350"/>
<rect x="519.2" y="494.6" width="5.2" height="1.2" fill="#ef5350"/>
<rect x="527.6" y="490.7" width="1.4" height="27.4" fill="#ef5350"/>
<rect x="525.7" y="495.8" width="5.2" height="21.2" fill="#ef5350"/>
<rect x="534.2" y="503.8" width="1.4" height="21.2" fill="#26a69a"/>
<rect x="532.3" y="507.3" width="5.2" height="9.1" fill="#26a69a"/>
<rect x="540.8" y="490.7" width="1.4" height="18.3" fill="#26a69a"/>
<rect x="538.9" y="495.8" width="5.2" height="11.5" fill="#26a69a"/>
<rect x="547.4" y="487.8" width="1.4" height="10.9" fill="#26a69a"/>
<rect x="545.5" y="491.2" width="5.2" height="4.6" fill="#26a69a"/>
<rect x="553.9" y="460.9" width="1.4" height="40.1" fill="#26a69a"/>
<rect x="552.0" y="483.2" width="5.2" height="8.0" fill="#26a69a"/>
<rect x="560.5" y="479.2" width="1.4" height="26.3" fill="#ef5350"/>
<rect x="558.6" y="483.5" width="5.2" height="16.3" fill="#ef5350"/>
<rect x="567.1" y="470.2" width="1.4" height="32.4" fill="#26a69a"/>
<rect x="565.2" y="484.5" width="5.2" height="15.3" fill="#26a69a"/>
<rect x="573.7" y="464.4" width="1.4" height="22.0" fill="#26a69a"/>
<rect x="571.8" y="478.8" width="5.2" height="6.7" fill="#26a69a"/>
<rect x="580.2" y="475.9" width="1.4" height="17.7" fill="#ef5350"/>
<rect x="578.3" y="478.3" width="5.2" height="9.1" fill="#ef5350"/>
<rect x="586.8" y="484.5" width="1.4" height="7.6" fill="#ef5350"/>
<rect x="584.9" y="487.8" width="5.2" height="1.5" fill="#ef5350"/>
<rect x="593.4" y="470.2" width="1.4" height="20.0" fill="#26a69a"/>
<rect x="591.5" y="475.0" width="5.2" height="14.3" fill="#26a69a"/>
<rect x="600.0" y="454.4" width="1.4" height="24.4" fill="#ef5350"/>
<rect x="598.1" y="474.3" width="5.2" height="1.2" fill="#ef5350"/>
<rect x="606.5" y="462.5" width="1.4" height="17.7" fill="#26a69a"/>
<rect x="604.6" y="465.4" width="5.2" height="10.0" fill="#26a69a"/>
<rect x="613.1" y="435.3" width="1.4" height="33.0" fill="#26a69a"/>
<rect x="611.2" y="442.0" width="5.2" height="23.4" fill="#26a69a"/>
<rect x="619.7" y="401.0" width="1.4" height="44.0" fill="#26a69a"/>
<rect x="617.8" y="406.7" width="5.2" height="36.6" fill="#26a69a"/>
<rect x="626.3" y="299.4" width="1.4" height="115.0" fill="#26a69a"/>
<rect x="624.4" y="360.3" width="5.2" height="46.1" fill="#26a69a"/>
<rect x="632.8" y="330.8" width="1.4" height="46.2" fill="#26a69a"/>
<rect x="630.9" y="358.3" width="5.2" height="2.0" fill="#26a69a"/>
<rect x="639.4" y="320.1" width="1.4" height="41.5" fill="#26a69a"/>
<rect x="637.5" y="334.2" width="5.2" height="23.4" fill="#26a69a"/>
<rect x="646.0" y="284.5" width="1.4" height="52.9" fill="#26a69a"/>
<rect x="644.1" y="303.9" width="5.2" height="30.3" fill="#26a69a"/>
<rect x="652.6" y="303.9" width="1.4" height="37.7" fill="#ef5350"/>
<rect x="650.7" y="303.9" width="5.2" height="9.6" fill="#ef5350"/>
<rect x="659.1" y="268.1" width="1.4" height="55.4" fill="#26a69a"/>
<rect x="657.2" y="283.9" width="5.2" height="29.6" fill="#26a69a"/>
<rect x="665.7" y="156.0" width="1.4" height="140.3" fill="#26a69a"/>
<rect x="663.8" y="173.2" width="5.2" height="110.4" fill="#26a69a"/>
<rect x="672.3" y="128.4" width="1.4" height="78.7" fill="#ef5350"/>
<rect x="670.4" y="173.2" width="5.2" height="17.2" fill="#ef5350"/>
<rect x="678.9" y="172.3" width="1.4" height="32.0" fill="#26a69a"/>
<rect x="677.0" y="187.6" width="5.2" height="2.8" fill="#26a69a"/>
<rect x="685.5" y="154.1" width="1.4" height="42.5" fill="#26a69a"/>
<rect x="683.6" y="180.4" width="5.2" height="7.2" fill="#26a69a"/>
<rect x="692.0" y="132.2" width="1.4" height="58.7" fill="#26a69a"/>
<rect x="690.1" y="156.0" width="5.2" height="24.4" fill="#26a69a"/>
<rect x="698.6" y="148.9" width="1.4" height="38.7" fill="#26a69a"/>
<rect x="696.7" y="155.5" width="5.2" height="1.5" fill="#26a69a"/>
<rect x="705.2" y="155.0" width="1.4" height="132.5" fill="#ef5350"/>
<rect x="703.3" y="156.0" width="5.2" height="91.0" fill="#ef5350"/>
<rect x="711.8" y="227.2" width="1.4" height="76.4" fill="#ef5350"/>
<rect x="709.9" y="247.0" width="5.2" height="10.0" fill="#ef5350"/>
<rect x="718.3" y="253.2" width="1.4" height="40.5" fill="#ef5350"/>
<rect x="716.4" y="256.0" width="5.2" height="1.2" fill="#ef5350"/>
<rect x="724.9" y="238.6" width="1.4" height="26.8" fill="#26a69a"/>
<rect x="723.0" y="252.4" width="5.2" height="5.3" fill="#26a69a"/>
<rect x="731.5" y="230.2" width="1.4" height="23.7" fill="#26a69a"/>
<rect x="729.6" y="234.0" width="5.2" height="18.4" fill="#26a69a"/>
<rect x="738.1" y="210.4" width="1.4" height="55.0" fill="#ef5350"/>
<rect x="736.2" y="234.0" width="5.2" height="29.1" fill="#ef5350"/>
<rect x="744.6" y="247.0" width="1.4" height="32.9" fill="#26a69a"/>
<rect x="742.7" y="260.0" width="5.2" height="1.6" fill="#26a69a"/>
<rect x="751.2" y="253.2" width="1.4" height="38.9" fill="#ef5350"/>
<rect x="749.3" y="261.6" width="5.2" height="6.8" fill="#ef5350"/>
<rect x="757.8" y="248.6" width="1.4" height="41.2" fill="#ef5350"/>
<rect x="755.9" y="269.2" width="5.2" height="18.4" fill="#ef5350"/>
<rect x="764.4" y="279.1" width="1.4" height="29.9" fill="#ef5350"/>
<rect x="762.5" y="288.3" width="5.2" height="14.5" fill="#ef5350"/>
<rect x="770.9" y="288.0" width="1.4" height="69.7" fill="#ef5350"/>
<rect x="769.0" y="302.7" width="5.2" height="48.1" fill="#ef5350"/>
<rect x="777.5" y="302.7" width="1.4" height="57.6" fill="#26a69a"/>
<rect x="775.6" y="306.1" width="5.2" height="44.7" fill="#26a69a"/>
<rect x="784.1" y="270.8" width="1.4" height="39.6" fill="#26a69a"/>
<rect x="782.2" y="275.1" width="5.2" height="31.9" fill="#26a69a"/>
<rect x="790.7" y="265.7" width="1.4" height="48.1" fill="#ef5350"/>
<rect x="788.8" y="275.1" width="5.2" height="27.6" fill="#ef5350"/>
<rect x="797.2" y="288.9" width="1.4" height="28.4" fill="#26a69a"/>
<rect x="795.3" y="295.8" width="5.2" height="6.9" fill="#26a69a"/>
<rect x="803.8" y="209.8" width="1.4" height="92.0" fill="#26a69a"/>
<rect x="801.9" y="213.2" width="5.2" height="82.6" fill="#26a69a"/>
<rect x="810.4" y="197.7" width="1.4" height="43.9" fill="#ef5350"/>
<rect x="808.5" y="213.2" width="5.2" height="8.6" fill="#ef5350"/>
<rect x="817.0" y="207.2" width="1.4" height="33.5" fill="#ef5350"/>
<rect x="815.1" y="221.8" width="5.2" height="15.5" fill="#ef5350"/>
<rect x="823.5" y="223.5" width="1.4" height="31.9" fill="#ef5350"/>
<rect x="821.6" y="237.3" width="5.2" height="9.5" fill="#ef5350"/>
<rect x="830.1" y="209.3" width="1.4" height="54.4" fill="#ef5350"/>
<rect x="828.2" y="246.5" width="5.2" height="15.1" fill="#ef5350"/>
<rect x="836.7" y="216.5" width="1.4" height="50.8" fill="#26a69a"/>
<rect x="834.8" y="226.5" width="5.2" height="35.1" fill="#26a69a"/>
<rect x="843.3" y="209.3" width="1.4" height="32.9" fill="#26a69a"/>
<rect x="841.4" y="224.8" width="5.2" height="1.7" fill="#26a69a"/>
<rect x="849.9" y="205.0" width="1.4" height="89.5" fill="#ef5350"/>
<rect x="848.0" y="224.8" width="5.2" height="48.6" fill="#ef5350"/>
<rect x="856.4" y="258.0" width="1.4" height="34.3" fill="#ef5350"/>
<rect x="854.5" y="272.2" width="5.2" height="1.2" fill="#ef5350"/>
<rect x="863.0" y="253.7" width="1.4" height="20.7" fill="#26a69a"/>
<rect x="861.1" y="267.3" width="5.2" height="6.4" fill="#26a69a"/>
<rect x="869.6" y="255.8" width="1.4" height="17.2" fill="#ef5350"/>
<rect x="867.7" y="267.3" width="5.2" height="4.3" fill="#ef5350"/>
<rect x="876.2" y="268.7" width="1.4" height="37.2" fill="#ef5350"/>
<rect x="874.3" y="270.9" width="5.2" height="7.1" fill="#ef5350"/>
<rect x="882.7" y="273.0" width="1.4" height="57.3" fill="#ef5350"/>
<rect x="880.8" y="278.0" width="5.2" height="50.1" fill="#ef5350"/>
<rect x="889.3" y="295.8" width="1.4" height="42.6" fill="#26a69a"/>
<rect x="887.4" y="306.0" width="5.2" height="22.3" fill="#26a69a"/>
<rect x="895.9" y="303.7" width="1.4" height="28.6" fill="#ef5350"/>
<rect x="894.0" y="306.0" width="5.2" height="24.6" fill="#ef5350"/>
<rect x="902.5" y="267.0" width="1.4" height="79.6" fill="#26a69a"/>
<rect x="900.6" y="275.0" width="5.2" height="55.6" fill="#26a69a"/>
<rect x="909.0" y="275.0" width="1.4" height="25.3" fill="#ef5350"/>
<rect x="907.1" y="275.0" width="5.2" height="5.8" fill="#ef5350"/>
<rect x="915.6" y="261.3" width="1.4" height="34.4" fill="#ef5350"/>
<rect x="913.7" y="281.3" width="5.2" height="5.2" fill="#ef5350"/>
<rect x="922.2" y="279.6" width="1.4" height="57.3" fill="#ef5350"/>
<rect x="920.3" y="287.1" width="5.2" height="41.2" fill="#ef5350"/>
<rect x="928.8" y="273.3" width="1.4" height="57.9" fill="#26a69a"/>
<rect x="926.9" y="290.0" width="5.2" height="38.3" fill="#26a69a"/>
<rect x="935.3" y="281.9" width="1.4" height="20.1" fill="#ef5350"/>
<rect x="933.4" y="290.5" width="5.2" height="10.3" fill="#ef5350"/>
<rect x="941.9" y="286.5" width="1.4" height="18.9" fill="#ef5350"/>
<rect x="940.0" y="299.9" width="5.2" height="1.2" fill="#ef5350"/>
<rect x="948.5" y="299.7" width="1.4" height="49.8" fill="#ef5350"/>
<rect x="946.6" y="301.4" width="5.2" height="36.7" fill="#ef5350"/>
<rect x="955.1" y="334.3" width="1.4" height="18.1" fill="#ef5350"/>
<rect x="953.2" y="337.4" width="5.2" height="1.2" fill="#ef5350"/>
<rect x="961.6" y="326.0" width="1.4" height="23.5" fill="#ef5350"/>
<rect x="959.7" y="339.2" width="5.2" height="10.3" fill="#ef5350"/>
<rect x="968.2" y="332.9" width="1.4" height="34.9" fill="#ef5350"/>
<rect x="966.3" y="349.5" width="5.2" height="4.0" fill="#ef5350"/>
<rect x="974.8" y="327.2" width="1.4" height="28.0" fill="#26a69a"/>
<rect x="972.9" y="327.2" width="5.2" height="26.3" fill="#26a69a"/>
<rect x="981.4" y="320.9" width="1.4" height="18.9" fill="#ef5350"/>
<rect x="979.5" y="327.7" width="5.2" height="4.1" fill="#ef5350"/>
<rect x="987.9" y="327.7" width="1.4" height="18.9" fill="#ef5350"/>
<rect x="986.0" y="331.8" width="5.2" height="12.6" fill="#ef5350"/>
<rect x="994.5" y="322.0" width="1.4" height="26.4" fill="#26a69a"/>
<rect x="992.6" y="339.8" width="5.2" height="4.6" fill="#26a69a"/>
<rect x="1001.1" y="335.8" width="1.4" height="8.6" fill="#ef5350"/>
<rect x="999.2" y="338.9" width="5.2" height="1.2" fill="#ef5350"/>
<rect x="1007.7" y="311.1" width="1.4" height="29.8" fill="#26a69a"/>
<rect x="1005.8" y="324.3" width="5.2" height="16.6" fill="#26a69a"/>
<rect x="1014.3" y="294.3" width="1.4" height="32.3" fill="#26a69a"/>
<rect x="1012.4" y="300.8" width="5.2" height="23.5" fill="#26a69a"/>
<rect x="1020.8" y="283.7" width="1.4" height="25.8" fill="#ef5350"/>
<rect x="1018.9" y="300.9" width="5.2" height="5.7" fill="#ef5350"/>
<rect x="1027.4" y="287.1" width="1.4" height="21.2" fill="#26a69a"/>
<rect x="1025.5" y="297.4" width="5.2" height="9.2" fill="#26a69a"/>
<rect x="1034.0" y="280.8" width="1.4" height="24.7" fill="#26a69a"/>
<rect x="1032.1" y="283.1" width="5.2" height="14.3" fill="#26a69a"/>
<rect x="1040.6" y="259.1" width="1.4" height="29.2" fill="#26a69a"/>
<rect x="1038.7" y="267.1" width="5.2" height="16.0" fill="#26a69a"/>
<rect x="1047.1" y="247.0" width="1.4" height="23.5" fill="#26a69a"/>
<rect x="1045.2" y="263.6" width="5.2" height="3.5" fill="#26a69a"/>
<rect x="1053.7" y="261.9" width="1.4" height="28.7" fill="#ef5350"/>
<rect x="1051.8" y="263.1" width="5.2" height="23.5" fill="#ef5350"/>
<rect x="1060.3" y="276.8" width="1.4" height="27.5" fill="#ef5350"/>
<rect x="1058.4" y="286.0" width="5.2" height="8.0" fill="#ef5350"/>
<rect x="1066.9" y="279.1" width="1.4" height="22.3" fill="#26a69a"/>
<rect x="1065.0" y="284.3" width="5.2" height="9.7" fill="#26a69a"/>
<rect x="1073.4" y="265.9" width="1.4" height="31.5" fill="#26a69a"/>
<rect x="1071.5" y="272.8" width="5.2" height="11.5" fill="#26a69a"/>
<rect x="1080.0" y="258.4" width="1.4" height="20.7" fill="#ef5350"/>
<rect x="1078.1" y="272.8" width="5.2" height="1.7" fill="#ef5350"/>
<rect x="1086.6" y="269.9" width="1.4" height="28.6" fill="#ef5350"/>
<rect x="1084.7" y="275.0" width="5.2" height="20.7" fill="#ef5350"/>
<rect x="1093.2" y="291.1" width="1.4" height="10.9" fill="#ef5350"/>
<rect x="1091.3" y="296.2" width="5.2" height="2.9" fill="#ef5350"/>
<rect x="1099.7" y="290.0" width="1.4" height="13.1" fill="#ef5350"/>
<rect x="1097.8" y="298.5" width="5.2" height="1.2" fill="#ef5350"/>
<rect x="1106.3" y="299.1" width="1.4" height="68.7" fill="#ef5350"/>
<rect x="1104.4" y="300.8" width="5.2" height="29.8" fill="#ef5350"/>
<rect x="1112.9" y="319.2" width="1.4" height="23.4" fill="#ef5350"/>
<rect x="1111.0" y="330.6" width="5.2" height="6.3" fill="#ef5350"/>
<rect x="1119.5" y="294.5" width="1.4" height="51.0" fill="#26a69a"/>
<rect x="1117.6" y="311.7" width="5.2" height="25.2" fill="#26a69a"/>
<rect x="1126.0" y="308.3" width="1.4" height="53.2" fill="#ef5350"/>
<rect x="1124.1" y="311.7" width="5.2" height="45.8" fill="#ef5350"/>
<rect x="1132.6" y="340.9" width="1.4" height="26.9" fill="#26a69a"/>
<rect x="1130.7" y="347.2" width="5.2" height="10.3" fill="#26a69a"/>
<rect x="1139.2" y="335.8" width="1.4" height="16.6" fill="#26a69a"/>
<rect x="1137.3" y="342.1" width="5.2" height="5.1" fill="#26a69a"/>
<rect x="1145.8" y="324.3" width="1.4" height="26.4" fill="#26a69a"/>
<rect x="1143.9" y="325.5" width="5.2" height="16.0" fill="#26a69a"/>
<rect x="1152.3" y="311.2" width="1.4" height="20.0" fill="#26a69a"/>
<rect x="1150.4" y="323.8" width="5.2" height="1.7" fill="#26a69a"/>
<rect x="1158.9" y="316.3" width="1.4" height="22.9" fill="#ef5350"/>
<rect x="1157.0" y="323.8" width="5.2" height="8.0" fill="#ef5350"/>
<rect x="1165.5" y="303.1" width="1.4" height="36.1" fill="#26a69a"/>
<rect x="1163.6" y="306.6" width="5.2" height="25.2" fill="#26a69a"/>
<rect x="1172.1" y="268.2" width="1.4" height="38.9" fill="#26a69a"/>
<rect x="1170.2" y="284.2" width="5.2" height="22.4" fill="#26a69a"/>
<rect x="1178.7" y="269.9" width="1.4" height="21.8" fill="#26a69a"/>
<rect x="1176.8" y="282.5" width="5.2" height="1.2" fill="#26a69a"/>
<rect x="1185.2" y="280.2" width="1.4" height="28.1" fill="#ef5350"/>
<rect x="1183.3" y="283.1" width="5.2" height="18.3" fill="#ef5350"/>
<rect x="1191.8" y="275.1" width="1.4" height="30.3" fill="#26a69a"/>
<rect x="1189.9" y="300.2" width="5.2" height="1.2" fill="#26a69a"/>
<rect x="1198.4" y="281.4" width="1.4" height="22.3" fill="#26a69a"/>
<rect x="1196.5" y="296.8" width="5.2" height="3.5" fill="#26a69a"/>
<rect x="1205.0" y="293.4" width="1.4" height="37.2" fill="#ef5350"/>
<rect x="1203.1" y="296.8" width="5.2" height="33.8" fill="#ef5350"/>
<rect x="1211.5" y="323.2" width="1.4" height="12.2" fill="#26a69a"/>
<rect x="1209.6" y="325.4" width="5.2" height="4.5" fill="#26a69a"/>
<line x1="600.8" y1="363.4" x2="1356" y2="363.4" stroke="#000" stroke-width="2" stroke-dasharray="7.3 8.21"/>
<line x1="120.5" y1="442.3" x2="1420" y2="442.3" stroke="#e040fb" stroke-width="4" stroke-dasharray="4.2 8.494"/>
<line x1="646.7" y1="197.65" x2="1420" y2="197.65" stroke="#e040fb" stroke-width="2.8" stroke-dasharray="3 5.46"/>
<line x1="653" y1="245.6" x2="1420" y2="245.6" stroke="#9a9a9a" stroke-width="2.8" stroke-dasharray="3 5.46"/>
<line x1="660.2" y1="127.9" x2="1420" y2="127.9" stroke="#000" stroke-width="4" stroke-dasharray="4.2 8.49"/>
<line x1="593.2" y1="103.2" x2="1421" y2="339.8" stroke="#000" stroke-width="1.45"/>
<line x1="14.5" y1="325.2" x2="1421" y2="325.2" stroke="#26a69a" stroke-width="1.5" stroke-dasharray="1.5 2.7"/>
</g>
<circle cx="1212.3" cy="555.05" r="15.6" fill="#fff"/>
<path d="M1225.50,551.02 A13.8,13.8 0 1 1 1216.33,541.85" fill="none" stroke="#9423ad" stroke-width="1.9" stroke-linecap="round"/>
<path d="M1216.4,548.4 L1206.2,555.6 L1212.5,555.6 L1208,562.3 L1218.1,554.5 L1212,554.5 Z" fill="#9423ad" stroke="#9423ad" stroke-width="0.8" stroke-linejoin="round"/>
<circle cx="1221.9" cy="545.3" r="3.6" fill="#f23645"/>
<text x="25.6" y="66.8" font-size="17.2" fill="#131722" textLength="233.8" lengthAdjust="spacingAndGlyphs">XRP / TetherUS · 1D · Binance</text>
<text x="269.8" y="66.8" font-size="17.2" fill="#131722" textLength="12.2" lengthAdjust="spacingAndGlyphs">O</text>
<text x="283.2" y="66.8" font-size="17.2" fill="#26a69a" textLength="53.1" lengthAdjust="spacingAndGlyphs">2.8521</text>
<text x="346.5" y="66.8" font-size="17.2" fill="#131722" textLength="11.9" lengthAdjust="spacingAndGlyphs">H</text>
<text x="358.8" y="66.8" font-size="17.2" fill="#26a69a" textLength="55.5" lengthAdjust="spacingAndGlyphs">2.8792</text>
<text x="424.8" y="66.8" font-size="17.2" fill="#131722" textLength="8.6" lengthAdjust="spacingAndGlyphs">L</text>
<text x="433.8" y="66.8" font-size="17.2" fill="#26a69a" textLength="55.5" lengthAdjust="spacingAndGlyphs">2.8303</text>
<text x="500.2" y="66.8" font-size="17.2" fill="#131722" textLength="11.6" lengthAdjust="spacingAndGlyphs">C</text>
<text x="511.9" y="66.8" font-size="17.2" fill="#26a69a" textLength="55.5" lengthAdjust="spacingAndGlyphs">2.8705</text>
<text x="578.3" y="66.8" font-size="17.2" fill="#26a69a" textLength="62.8" lengthAdjust="spacingAndGlyphs">+0.0185</text>
<text x="648.6" y="66.8" font-size="17.2" fill="#26a69a" textLength="72.4" lengthAdjust="spacingAndGlyphs">(+0.65%)</text>
<text x="25.6" y="90.5" font-size="17.2" fill="#131722" textLength="71.5" lengthAdjust="spacingAndGlyphs">Vol · XRP</text>
<text x="107.5" y="90.5" font-size="17.2" fill="#26a69a" textLength="62.3" lengthAdjust="spacingAndGlyphs">40.79 M</text>
<text x="25.6" y="114.5" font-size="17.2" fill="#131722" textLength="307.8" lengthAdjust="spacingAndGlyphs">EMA (50, close, 100, close, 200, close)</text>
<text x="344.8" y="114.5" font-size="17.2" fill="#ff2424" textLength="56.0" lengthAdjust="spacingAndGlyphs">2.9302</text>
<text x="410.9" y="114.5" font-size="17.2" fill="#2962ff" textLength="56.1" lengthAdjust="spacingAndGlyphs">2.8542</text>
<text x="476.7" y="114.5" font-size="17.2" fill="#9c27b0" textLength="56.3" lengthAdjust="spacingAndGlyphs">2.6392</text>
<g clip-path="url(#cr)">
<rect x="14.5" y="662.2" width="1406" height="138.4" fill="#7e57c2" fill-opacity="0.1"/>
<line x1="14.5" y1="662.4" x2="1421" y2="662.4" stroke="#63666f" stroke-width="1.15" stroke-dasharray="6.9 8.62"/>
<line x1="14.5" y1="731.8" x2="1421" y2="731.8" stroke="#a6a8ae" stroke-width="1.15" stroke-dasharray="6.9 8.62"/>
<line x1="14.5" y1="800.6" x2="1421" y2="800.6" stroke="#63666f" stroke-width="1.15" stroke-dasharray="6.9 8.62"/>
<linearGradient id="g618" gradientUnits="userSpaceOnUse" x1="0" y1="599.2" x2="0" y2="662.2"><stop offset="0" stop-color="#4caf50" stop-opacity="0.6"/><stop offset="1" stop-color="#4caf50" stop-opacity="0.03"/></linearGradient>
<polygon points="618.5,662.2 620.4,655.5 627.0,634.5 633.5,633.7 640.1,625.1 646.7,616.2 653.3,628.9 659.8,619.9 666.4,599.2 673.0,615.6 679.6,615.1 686.2,613.7 692.7,609.1 699.3,609.0 703.7,662.2" fill="url(#g618)"/>
<polyline points="14.4,766.2 21.0,767.3 27.6,766.7 43.0,760.1 64.9,753.5 80.3,751.3 93.5,745.8 100.9,740.1 107.5,737.4 114.0,734.2 120.6,732.2 127.2,731.4 133.8,729.3 140.3,726.5 146.9,724.6 153.5,723.4 160.1,721.8 166.6,720.2 173.2,719.3 179.8,719.1 186.4,719.5 193.0,721.3 199.5,723.7 206.1,722.0 212.7,719.7 219.3,716.0 225.8,715.4 232.4,713.6 239.0,710.3 245.6,706.7 252.1,706.2 258.7,705.8 265.3,705.4 271.9,703.3 278.4,701.3 285.0,700.5 291.6,698.4 298.2,699.6 304.7,703.2 311.3,707.8 317.9,710.1 324.5,714.7 331.0,719.7 337.6,724.7 344.2,727.5 350.8,731.7 357.4,734.7 363.9,738.5 370.5,741.2 377.1,742.4 383.7,745.1 390.2,749.9 396.8,751.0 403.4,752.4 410.0,752.2 416.5,750.7 423.1,749.4 429.7,748.3 436.3,748.0 442.8,746.8 449.4,746.5 456.0,745.7 462.6,743.9 469.1,744.6 475.7,744.1 482.3,742.1 488.9,742.4 495.4,744.0 502.0,747.9 508.6,749.7 515.2,750.6 521.8,750.7 528.3,751.0 534.9,749.9 541.5,747.7 548.1,745.8 554.6,744.8 561.2,743.7 567.8,741.7 574.4,739.3 580.9,736.7 587.5,733.4 594.1,728.3 600.7,726.3 607.2,724.0 613.8,720.3 620.4,713.3 627.0,705.7 633.5,698.8 640.1,691.7 646.7,684.6 653.3,677.0 659.8,669.9 666.4,661.7 673.0,654.0 679.6,646.1 686.2,639.2 692.7,631.9 699.3,625.3 705.9,626.0 712.5,628.8 719.0,633.1 725.6,637.3 732.2,641.5 738.8,647.9 745.3,653.2 751.9,659.7 758.5,668.7 765.1,677.2 771.6,687.8 778.2,696.4 784.8,704.1 791.4,712.9 797.9,715.9 804.5,715.6 811.1,715.8 817.7,716.7 824.2,718.7 830.8,719.8 837.4,719.7 844.0,719.2 850.6,719.7 857.1,719.4 863.7,717.0 870.3,716.7 876.9,718.0 883.4,720.2 890.0,721.6 896.6,726.6 903.2,728.8 909.7,730.6 916.3,732.3 922.9,734.8 929.5,737.0 936.0,739.7 942.6,740.2 949.2,742.2 955.8,744.4 962.3,746.8 968.9,749.1 975.5,747.9 982.1,748.0 988.6,747.8 995.2,749.6 1001.8,751.3 1008.4,751.7 1015.0,749.2 1021.5,748.7 1028.1,747.2 1034.7,745.0 1041.3,740.6 1047.8,735.9 1054.4,732.6 1061.0,729.5 1067.6,727.4 1074.1,724.3 1080.7,720.8 1087.3,719.2 1093.9,717.8 1100.4,717.4 1107.0,720.3 1113.6,723.3 1120.2,724.8 1126.7,729.4 1133.3,734.2 1139.9,738.8 1146.5,740.5 1153.0,741.7 1159.6,744.0 1166.2,745.2 1172.8,745.1 1179.4,743.3 1185.9,742.6 1192.5,741.8 1199.1,738.7 1205.7,737.6 1212.2,738.0" fill="none" stroke="#fdd835" stroke-width="1.5" stroke-linejoin="round"/>
<polyline points="15.4,748.4 22.0,759.3 28.6,749.7 35.1,730.2 41.7,735.9 48.3,734.7 54.9,741.0 61.4,741.2 68.0,743.5 74.6,743.7 81.2,739.7 87.7,741.1 94.3,740.0 100.9,712.1 107.5,711.2 114.0,715.1 120.6,721.6 127.2,719.1 133.8,705.6 140.3,696.1 146.9,713.5 153.5,725.5 160.1,720.7 166.6,721.6 173.2,727.5 179.8,738.0 186.4,745.6 193.0,736.4 199.5,744.9 206.1,692.3 212.7,689.1 219.3,666.8 225.8,697.5 232.4,671.4 239.0,666.3 245.6,675.1 252.1,714.7 258.7,716.1 265.3,721.6 271.9,707.9 278.4,718.5 285.0,724.2 291.6,715.9 298.2,708.9 304.7,739.4 311.3,731.9 317.9,729.5 324.5,736.5 331.0,735.6 337.6,745.8 344.2,753.2 350.8,774.9 357.4,763.4 363.9,761.3 370.5,756.3 377.1,741.2 383.7,753.2 390.2,776.1 396.8,755.6 403.4,750.7 410.0,727.6 416.5,714.5 423.1,718.1 429.7,730.0 436.3,748.6 442.8,757.8 449.4,759.5 456.0,751.0 462.6,730.7 469.1,750.5 475.7,747.2 482.3,747.2 488.9,760.0 495.4,773.0 502.0,782.5 508.6,739.1 515.2,731.6 521.8,731.6 528.3,752.7 534.9,741.7 541.5,729.4 548.1,724.6 554.6,716.3 561.2,735.3 567.8,719.2 574.4,713.6 580.9,723.9 587.5,726.2 594.1,710.6 600.7,711.1 607.2,700.4 613.8,679.1 620.4,655.5 627.0,634.5 633.5,633.7 640.1,625.1 646.7,616.2 653.3,628.9 659.8,619.9 666.4,599.2 673.0,615.6 679.6,615.1 686.2,613.7 692.7,609.1 699.3,609.0 705.9,688.1 712.5,694.7 719.0,694.7 725.6,692.5 732.2,683.9 738.8,705.8 745.3,704.1 751.9,710.5 758.5,724.6 765.1,735.0 771.6,763.1 778.2,734.1 784.8,717.2 791.4,733.0 797.9,729.2 804.5,691.3 811.1,696.5 817.7,705.9 824.2,711.6 830.8,720.6 837.4,703.5 844.0,702.7 850.6,731.9 857.1,731.9 863.7,728.3 870.3,731.0 876.9,735.2 883.4,763.8 890.0,748.6 896.6,761.3 903.2,727.8 909.7,731.0 916.3,734.3 922.9,756.5 929.5,734.0 936.0,739.7 942.6,739.7 949.2,759.2 955.8,759.4 962.3,765.1 968.9,767.1 975.5,747.2 982.1,750.0 988.6,757.7 995.2,753.9 1001.8,753.9 1008.4,740.3 1015.0,721.7 1021.5,726.6 1028.1,719.3 1034.7,708.5 1041.3,697.2 1047.8,694.8 1054.4,717.9 1061.0,724.7 1067.6,716.5 1074.1,707.2 1080.7,709.1 1087.3,730.8 1093.9,734.1 1100.4,734.7 1107.0,762.8 1113.6,767.8 1120.2,740.4 1126.7,773.9 1133.3,763.8 1139.9,758.8 1146.5,743.0 1153.0,741.4 1159.6,748.2 1166.2,724.6 1172.8,707.0 1179.4,705.7 1185.9,724.3 1192.5,723.4 1199.1,720.1 1205.7,751.4 1212.2,746.2" fill="none" stroke="#7e57c2" stroke-width="1.5" stroke-linejoin="round"/>
<line x1="574.5" y1="574.5" x2="1420" y2="787.8" stroke="#000" stroke-width="1.4" stroke-dasharray="1.4 2.8"/>
</g>
<text x="26.2" y="601.6" font-size="17.2" fill="#131722" textLength="112.2" lengthAdjust="spacingAndGlyphs">RSI (14, close)</text>
<text x="149.6" y="601.6" font-size="17.2" fill="#7e57c2" textLength="43.9" lengthAdjust="spacingAndGlyphs">45.77</text>
<text x="204.0" y="601.6" font-size="17.2" fill="#fdd835" textLength="45.8" lengthAdjust="spacingAndGlyphs">48.24</text>
<g clip-path="url(#cd)">
<line x1="14.5" y1="893" x2="1421" y2="893" stroke="#a6a8ae" stroke-width="1.15" stroke-dasharray="6.9 8.62"/>
<rect x="12.9" y="893.0" width="5" height="2.9" fill="#ffcdd2"/>
<rect x="19.5" y="893.0" width="5" height="2.1" fill="#ffcdd2"/>
<rect x="26.1" y="893.0" width="5" height="0.8" fill="#ffcdd2"/>
<rect x="32.6" y="891.1" width="5" height="1.9" fill="#26a69a"/>
<rect x="39.2" y="889.9" width="5" height="3.1" fill="#26a69a"/>
<rect x="45.8" y="889.1" width="5" height="3.9" fill="#26a69a"/>
<rect x="52.4" y="889.1" width="5" height="3.9" fill="#26a69a"/>
<rect x="58.9" y="889.2" width="5" height="3.8" fill="#b2dfdb"/>
<rect x="65.5" y="889.5" width="5" height="3.5" fill="#b2dfdb"/>
<rect x="72.1" y="889.8" width="5" height="3.2" fill="#b2dfdb"/>
<rect x="78.7" y="889.8" width="5" height="3.2" fill="#26a69a"/>
<rect x="85.2" y="889.9" width="5" height="3.1" fill="#b2dfdb"/>
<rect x="91.8" y="890.1" width="5" height="2.9" fill="#b2dfdb"/>
<rect x="98.4" y="888.7" width="5" height="4.3" fill="#26a69a"/>
<rect x="105.0" y="888.0" width="5" height="5.0" fill="#26a69a"/>
<rect x="111.5" y="887.9" width="5" height="5.1" fill="#26a69a"/>
<rect x="118.1" y="888.3" width="5" height="4.7" fill="#b2dfdb"/>
<rect x="124.7" y="888.7" width="5" height="4.3" fill="#b2dfdb"/>
<rect x="131.3" y="888.5" width="5" height="4.5" fill="#26a69a"/>
<rect x="137.8" y="888.0" width="5" height="5.0" fill="#26a69a"/>
<rect x="144.4" y="888.7" width="5" height="4.3" fill="#b2dfdb"/>
<rect x="151.0" y="889.8" width="5" height="3.2" fill="#b2dfdb"/>
<rect x="157.6" y="890.4" width="5" height="2.6" fill="#b2dfdb"/>
<rect x="164.1" y="891.0" width="5" height="2.0" fill="#b2dfdb"/>
<rect x="170.7" y="891.7" width="5" height="1.3" fill="#b2dfdb"/>
<rect x="177.3" y="892.7" width="5" height="0.8" fill="#b2dfdb"/>
<rect x="183.9" y="893.0" width="5" height="0.8" fill="#ff5252"/>
<rect x="190.5" y="893.0" width="5" height="0.8" fill="#ff5252"/>
<rect x="197.0" y="893.0" width="5" height="1.3" fill="#ff5252"/>
<rect x="203.6" y="892.3" width="5" height="0.8" fill="#26a69a"/>
<rect x="210.2" y="890.9" width="5" height="2.1" fill="#26a69a"/>
<rect x="216.8" y="888.7" width="5" height="4.3" fill="#26a69a"/>
<rect x="223.3" y="888.8" width="5" height="4.2" fill="#b2dfdb"/>
<rect x="229.9" y="887.1" width="5" height="5.9" fill="#26a69a"/>
<rect x="236.5" y="886.0" width="5" height="7.0" fill="#26a69a"/>
<rect x="243.1" y="886.1" width="5" height="6.9" fill="#b2dfdb"/>
<rect x="249.6" y="888.5" width="5" height="4.5" fill="#b2dfdb"/>
<rect x="256.2" y="890.4" width="5" height="2.6" fill="#b2dfdb"/>
<rect x="262.8" y="892.1" width="5" height="0.9" fill="#b2dfdb"/>
<rect x="269.4" y="892.5" width="5" height="0.8" fill="#b2dfdb"/>
<rect x="275.9" y="893.0" width="5" height="0.8" fill="#ff5252"/>
<rect x="282.5" y="893.0" width="5" height="1.3" fill="#ff5252"/>
<rect x="289.1" y="893.0" width="5" height="1.5" fill="#ff5252"/>
<rect x="295.7" y="893.0" width="5" height="1.2" fill="#ffcdd2"/>
<rect x="302.2" y="893.0" width="5" height="2.6" fill="#ff5252"/>
<rect x="308.8" y="893.0" width="5" height="3.0" fill="#ff5252"/>
<rect x="315.4" y="893.0" width="5" height="3.1" fill="#ff5252"/>
<rect x="322.0" y="893.0" width="5" height="3.4" fill="#ff5252"/>
<rect x="328.5" y="893.0" width="5" height="3.4" fill="#ff5252"/>
<rect x="335.1" y="893.0" width="5" height="3.8" fill="#ff5252"/>
<rect x="341.7" y="893.0" width="5" height="4.2" fill="#ff5252"/>
<rect x="348.3" y="893.0" width="5" height="5.5" fill="#ff5252"/>
<rect x="354.9" y="893.0" width="5" height="5.6" fill="#ff5252"/>
<rect x="361.4" y="893.0" width="5" height="5.3" fill="#ffcdd2"/>
<rect x="368.0" y="893.0" width="5" height="4.7" fill="#ffcdd2"/>
<rect x="374.6" y="893.0" width="5" height="3.5" fill="#ffcdd2"/>
<rect x="381.2" y="893.0" width="5" height="3.1" fill="#ffcdd2"/>
<rect x="387.7" y="893.0" width="5" height="3.8" fill="#ff5252"/>
<rect x="394.3" y="893.0" width="5" height="3.3" fill="#ffcdd2"/>
<rect x="400.9" y="893.0" width="5" height="2.6" fill="#ffcdd2"/>
<rect x="407.5" y="893.0" width="5" height="1.0" fill="#ffcdd2"/>
<rect x="414.0" y="892.2" width="5" height="0.8" fill="#26a69a"/>
<rect x="420.6" y="891.3" width="5" height="1.7" fill="#26a69a"/>
<rect x="427.2" y="891.2" width="5" height="1.8" fill="#26a69a"/>
<rect x="433.8" y="892.1" width="5" height="0.9" fill="#b2dfdb"/>
<rect x="440.3" y="893.0" width="5" height="0.8" fill="#ff5252"/>
<rect x="446.9" y="893.0" width="5" height="0.8" fill="#ff5252"/>
<rect x="453.5" y="893.0" width="5" height="0.9" fill="#ff5252"/>
<rect x="460.1" y="893.0" width="5" height="0.8" fill="#ffcdd2"/>
<rect x="466.6" y="893.0" width="5" height="0.8" fill="#ff5252"/>
<rect x="473.2" y="893.0" width="5" height="0.8" fill="#ff5252"/>
<rect x="479.8" y="893.0" width="5" height="0.8" fill="#ffcdd2"/>
<rect x="486.4" y="893.0" width="5" height="0.8" fill="#ff5252"/>
<rect x="492.9" y="893.0" width="5" height="1.7" fill="#ff5252"/>
<rect x="499.5" y="893.0" width="5" height="2.6" fill="#ff5252"/>
<rect x="506.1" y="893.0" width="5" height="1.4" fill="#ffcdd2"/>
<rect x="512.7" y="893.0" width="5" height="0.8" fill="#ffcdd2"/>
<rect x="519.3" y="892.3" width="5" height="0.8" fill="#26a69a"/>
<rect x="525.8" y="892.8" width="5" height="0.8" fill="#b2dfdb"/>
<rect x="532.4" y="892.5" width="5" height="0.8" fill="#26a69a"/>
<rect x="539.0" y="891.9" width="5" height="1.1" fill="#26a69a"/>
<rect x="545.6" y="891.2" width="5" height="1.8" fill="#26a69a"/>
<rect x="552.1" y="890.5" width="5" height="2.5" fill="#26a69a"/>
<rect x="558.7" y="890.9" width="5" height="2.1" fill="#b2dfdb"/>
<rect x="565.3" y="890.6" width="5" height="2.4" fill="#26a69a"/>
<rect x="571.9" y="890.2" width="5" height="2.8" fill="#26a69a"/>
<rect x="578.4" y="890.5" width="5" height="2.5" fill="#b2dfdb"/>
<rect x="585.0" y="890.8" width="5" height="2.2" fill="#b2dfdb"/>
<rect x="591.6" y="890.5" width="5" height="2.5" fill="#26a69a"/>
<rect x="598.2" y="890.5" width="5" height="2.5" fill="#26a69a"/>
<rect x="604.7" y="890.1" width="5" height="2.9" fill="#26a69a"/>
<rect x="611.3" y="889.0" width="5" height="4.0" fill="#26a69a"/>
<rect x="617.9" y="887.0" width="5" height="6.0" fill="#26a69a"/>
<rect x="624.5" y="883.9" width="5" height="9.1" fill="#26a69a"/>
<rect x="631.0" y="882.5" width="5" height="10.5" fill="#26a69a"/>
<rect x="637.6" y="881.1" width="5" height="11.9" fill="#26a69a"/>
<rect x="644.2" y="879.6" width="5" height="13.4" fill="#26a69a"/>
<rect x="650.8" y="879.9" width="5" height="13.1" fill="#b2dfdb"/>
<rect x="657.3" y="879.7" width="5" height="13.3" fill="#26a69a"/>
<rect x="663.9" y="875.4" width="5" height="17.6" fill="#26a69a"/>
<rect x="670.5" y="874.7" width="5" height="18.3" fill="#26a69a"/>
<rect x="677.1" y="875.3" width="5" height="17.7" fill="#b2dfdb"/>
<rect x="683.7" y="876.7" width="5" height="16.3" fill="#b2dfdb"/>
<rect x="690.2" y="877.6" width="5" height="15.4" fill="#b2dfdb"/>
<rect x="696.8" y="879.4" width="5" height="13.6" fill="#b2dfdb"/>
<rect x="703.4" y="885.7" width="5" height="7.3" fill="#b2dfdb"/>
<rect x="710.0" y="890.9" width="5" height="2.1" fill="#b2dfdb"/>
<rect x="716.5" y="893.0" width="5" height="1.8" fill="#ff5252"/>
<rect x="723.1" y="893.0" width="5" height="4.3" fill="#ff5252"/>
<rect x="729.7" y="893.0" width="5" height="5.3" fill="#ff5252"/>
<rect x="736.3" y="893.0" width="5" height="7.3" fill="#ff5252"/>
<rect x="742.8" y="893.0" width="5" height="8.5" fill="#ff5252"/>
<rect x="749.4" y="893.0" width="5" height="9.5" fill="#ff5252"/>
<rect x="756.0" y="893.0" width="5" height="10.9" fill="#ff5252"/>
<rect x="762.6" y="893.0" width="5" height="12.2" fill="#ff5252"/>
<rect x="769.1" y="893.0" width="5" height="14.8" fill="#ff5252"/>
<rect x="775.7" y="893.0" width="5" height="13.9" fill="#ffcdd2"/>
<rect x="782.3" y="893.0" width="5" height="11.5" fill="#ffcdd2"/>
<rect x="788.9" y="893.0" width="5" height="10.8" fill="#ffcdd2"/>
<rect x="795.4" y="893.0" width="5" height="9.7" fill="#ffcdd2"/>
<rect x="802.0" y="893.0" width="5" height="5.0" fill="#ffcdd2"/>
<rect x="808.6" y="893.0" width="5" height="2.3" fill="#ffcdd2"/>
<rect x="815.2" y="893.0" width="5" height="1.3" fill="#ffcdd2"/>
<rect x="821.7" y="893.0" width="5" height="1.2" fill="#ffcdd2"/>
<rect x="828.3" y="893.0" width="5" height="1.9" fill="#ff5252"/>
<rect x="834.9" y="893.0" width="5" height="0.8" fill="#ffcdd2"/>
<rect x="841.5" y="893.0" width="5" height="0.8" fill="#ffcdd2"/>
<rect x="848.1" y="893.0" width="5" height="2.0" fill="#ff5252"/>
<rect x="854.6" y="893.0" width="5" height="3.2" fill="#ff5252"/>
<rect x="861.2" y="893.0" width="5" height="3.6" fill="#ff5252"/>
<rect x="867.8" y="893.0" width="5" height="4.0" fill="#ff5252"/>
<rect x="874.4" y="893.0" width="5" height="4.4" fill="#ff5252"/>
<rect x="880.9" y="893.0" width="5" height="6.8" fill="#ff5252"/>
<rect x="887.5" y="893.0" width="5" height="7.0" fill="#ff5252"/>
<rect x="894.1" y="893.0" width="5" height="8.0" fill="#ff5252"/>
<rect x="900.7" y="893.0" width="5" height="5.7" fill="#ffcdd2"/>
<rect x="907.2" y="893.0" width="5" height="4.3" fill="#ffcdd2"/>
<rect x="913.8" y="893.0" width="5" height="3.4" fill="#ffcdd2"/>
<rect x="920.4" y="893.0" width="5" height="4.6" fill="#ff5252"/>
<rect x="927.0" y="893.0" width="5" height="3.4" fill="#ffcdd2"/>
<rect x="933.5" y="893.0" width="5" height="2.9" fill="#ffcdd2"/>
<rect x="940.1" y="893.0" width="5" height="2.5" fill="#ffcdd2"/>
<rect x="946.7" y="893.0" width="5" height="3.7" fill="#ff5252"/>
<rect x="953.3" y="893.0" width="5" height="4.3" fill="#ff5252"/>
<rect x="959.8" y="893.0" width="5" height="4.9" fill="#ff5252"/>
<rect x="966.4" y="893.0" width="5" height="5.2" fill="#ff5252"/>
<rect x="973.0" y="893.0" width="5" height="3.8" fill="#ffcdd2"/>
<rect x="979.6" y="893.0" width="5" height="2.9" fill="#ffcdd2"/>
<rect x="986.1" y="893.0" width="5" height="2.7" fill="#ffcdd2"/>
<rect x="992.7" y="893.0" width="5" height="2.1" fill="#ffcdd2"/>
<rect x="999.3" y="893.0" width="5" height="1.6" fill="#ffcdd2"/>
<rect x="1005.9" y="893.0" width="5" height="0.8" fill="#ffcdd2"/>
<rect x="1012.5" y="891.4" width="5" height="1.6" fill="#26a69a"/>
<rect x="1019.0" y="890.5" width="5" height="2.5" fill="#26a69a"/>
<rect x="1025.6" y="889.6" width="5" height="3.4" fill="#26a69a"/>
<rect x="1032.2" y="888.4" width="5" height="4.6" fill="#26a69a"/>
<rect x="1038.8" y="887.2" width="5" height="5.8" fill="#26a69a"/>
<rect x="1045.3" y="886.5" width="5" height="6.5" fill="#26a69a"/>
<rect x="1051.9" y="887.4" width="5" height="5.6" fill="#b2dfdb"/>
<rect x="1058.5" y="888.6" width="5" height="4.4" fill="#b2dfdb"/>
<rect x="1065.1" y="889.1" width="5" height="3.9" fill="#b2dfdb"/>
<rect x="1071.6" y="889.1" width="5" height="3.9" fill="#b2dfdb"/>
<rect x="1078.2" y="889.4" width="5" height="3.6" fill="#b2dfdb"/>
<rect x="1084.8" y="890.8" width="5" height="2.2" fill="#b2dfdb"/>
<rect x="1091.4" y="891.9" width="5" height="1.1" fill="#b2dfdb"/>
<rect x="1097.9" y="892.7" width="5" height="0.8" fill="#b2dfdb"/>
<rect x="1104.5" y="893.0" width="5" height="1.7" fill="#ff5252"/>
<rect x="1111.1" y="893.0" width="5" height="3.1" fill="#ff5252"/>
<rect x="1117.7" y="893.0" width="5" height="2.7" fill="#ffcdd2"/>
<rect x="1124.2" y="893.0" width="5" height="4.4" fill="#ff5252"/>
<rect x="1130.8" y="893.0" width="5" height="4.8" fill="#ff5252"/>
<rect x="1137.4" y="893.0" width="5" height="4.5" fill="#ffcdd2"/>
<rect x="1144.0" y="893.0" width="5" height="3.3" fill="#ffcdd2"/>
<rect x="1150.5" y="893.0" width="5" height="2.3" fill="#ffcdd2"/>
<rect x="1157.1" y="893.0" width="5" height="1.9" fill="#ffcdd2"/>
<rect x="1163.7" y="893.0" width="5" height="0.8" fill="#ffcdd2"/>
<rect x="1170.3" y="891.3" width="5" height="1.7" fill="#26a69a"/>
<rect x="1176.9" y="890.0" width="5" height="3.0" fill="#26a69a"/>
<rect x="1183.4" y="890.2" width="5" height="2.8" fill="#b2dfdb"/>
<rect x="1190.0" y="890.4" width="5" height="2.6" fill="#b2dfdb"/>
<rect x="1196.6" y="890.4" width="5" height="2.6" fill="#b2dfdb"/>
<rect x="1203.2" y="892.1" width="5" height="0.9" fill="#b2dfdb"/>
<rect x="1209.7" y="893.0" width="5" height="0.8" fill="#b2dfdb"/>
<polyline points="15.4,912.5 22.0,912.3 28.6,911.1 35.1,908.0 41.7,906.0 48.3,904.2 54.9,903.2 61.4,902.4 68.0,901.8 74.6,901.3 81.2,900.5 87.7,899.9 94.3,899.3 100.9,896.9 107.5,894.9 114.0,893.5 120.6,892.8 127.2,892.1 133.8,890.7 140.3,889.0 146.9,888.6 153.5,888.9 160.1,888.9 166.6,889.0 173.2,889.4 179.8,890.3 186.4,891.3 193.0,891.8 199.5,892.5 206.1,890.3 212.7,888.4 219.3,885.2 225.8,884.2 232.4,881.1 239.0,878.2 245.6,876.6 252.1,877.8 258.7,879.1 265.3,880.5 271.9,880.8 278.4,881.8 285.0,883.1 291.6,883.6 298.2,883.7 304.7,885.7 311.3,886.8 317.9,887.7 324.5,888.8 331.0,889.7 337.6,891.0 344.2,892.5 350.8,895.2 357.4,896.7 363.9,897.8 370.5,898.3 377.1,898.0 383.7,898.3 390.2,900.1 396.8,900.4 403.4,900.3 410.0,898.9 416.5,896.9 423.1,895.5 429.7,895.0 436.3,895.7 442.8,896.8 449.4,897.7 456.0,897.9 462.6,897.1 469.1,897.5 475.7,897.6 482.3,897.7 488.9,898.4 495.4,899.6 502.0,901.2 508.6,900.3 515.2,899.2 521.8,898.2 528.3,898.5 534.9,898.2 541.5,897.2 548.1,896.2 554.6,894.9 561.2,894.7 567.8,893.8 574.4,892.7 580.9,892.3 587.5,892.1 594.1,891.2 600.7,890.5 607.2,889.5 613.8,887.4 620.4,883.8 627.0,878.5 633.5,874.4 640.1,870.1 646.7,865.2 653.3,862.3 659.8,858.7 666.4,850.1 673.0,844.8 679.6,841.0 686.2,838.2 692.7,835.3 699.3,833.7 705.9,838.2 712.5,842.9 719.0,847.2 725.6,850.8 732.2,853.0 738.8,856.9 745.3,860.2 751.9,863.6 758.5,867.7 765.1,872.0 771.6,878.3 778.2,880.9 784.8,881.4 791.4,883.4 797.9,884.7 804.5,881.2 811.1,879.1 817.7,878.5 824.2,878.7 830.8,879.8 837.4,878.9 844.0,878.2 850.6,880.6 857.1,882.6 863.7,884.0 870.3,885.4 876.9,886.9 883.4,891.0 890.0,893.0 896.6,895.9 903.2,895.1 909.7,894.7 916.3,894.7 922.9,897.0 929.5,896.7 936.0,897.0 942.6,897.1 949.2,899.3 955.8,901.0 962.3,902.8 968.9,904.3 975.5,903.9 982.1,903.8 988.6,904.2 995.2,904.2 1001.8,904.0 1008.4,902.9 1015.0,900.6 1021.5,899.0 1028.1,897.2 1034.7,894.9 1041.3,892.3 1047.8,890.0 1054.4,889.5 1061.0,889.6 1067.6,889.1 1074.1,888.2 1080.7,887.6 1087.3,888.4 1093.9,889.2 1100.4,890.0 1107.0,892.3 1113.6,894.5 1120.2,894.8 1126.7,897.6 1133.3,899.2 1139.9,900.0 1146.5,899.7 1153.0,899.2 1159.6,899.3 1166.2,897.8 1172.8,895.4 1179.4,893.3 1185.9,892.8 1192.5,892.3 1199.1,891.7 1205.7,893.2 1212.2,894.0" fill="none" stroke="#2962ff" stroke-width="1.5" stroke-linejoin="round"/>
<polyline points="15.4,909.6 22.0,910.2 28.6,910.4 35.1,909.9 41.7,909.1 48.3,908.1 54.9,907.1 61.4,906.2 68.0,905.3 74.6,904.5 81.2,903.7 87.7,902.9 94.3,902.2 100.9,901.1 107.5,899.9 114.0,898.6 120.6,897.5 127.2,896.4 133.8,895.2 140.3,894.0 146.9,892.9 153.5,892.1 160.1,891.5 166.6,891.0 173.2,890.7 179.8,890.6 186.4,890.7 193.0,890.9 199.5,891.3 206.1,891.1 212.7,890.5 219.3,889.5 225.8,888.4 232.4,886.9 239.0,885.2 245.6,883.5 252.1,882.4 258.7,881.7 265.3,881.5 271.9,881.3 278.4,881.4 285.0,881.8 291.6,882.1 298.2,882.4 304.7,883.1 311.3,883.8 317.9,884.6 324.5,885.4 331.0,886.3 337.6,887.2 344.2,888.3 350.8,889.7 357.4,891.1 363.9,892.4 370.5,893.6 377.1,894.5 383.7,895.3 390.2,896.2 396.8,897.0 403.4,897.7 410.0,897.9 416.5,897.7 423.1,897.3 429.7,896.8 436.3,896.6 442.8,896.6 449.4,896.9 456.0,897.1 462.6,897.1 469.1,897.2 475.7,897.3 482.3,897.3 488.9,897.5 495.4,898.0 502.0,898.6 508.6,899.0 515.2,899.0 521.8,898.8 528.3,898.8 534.9,898.7 541.5,898.4 548.1,897.9 554.6,897.3 561.2,896.8 567.8,896.2 574.4,895.5 580.9,894.9 587.5,894.3 594.1,893.7 600.7,893.1 607.2,892.3 613.8,891.3 620.4,889.8 627.0,887.6 633.5,884.9 640.1,882.0 646.7,878.6 653.3,875.4 659.8,872.0 666.4,867.6 673.0,863.1 679.6,858.7 686.2,854.6 692.7,850.7 699.3,847.3 705.9,845.5 712.5,845.0 719.0,845.4 725.6,846.5 732.2,847.8 738.8,849.6 745.3,851.7 751.9,854.1 758.5,856.8 765.1,859.9 771.6,863.5 778.2,867.0 784.8,869.9 791.4,872.6 797.9,875.0 804.5,876.3 811.1,876.8 817.7,877.2 824.2,877.5 830.8,877.9 837.4,878.1 844.0,878.2 850.6,878.7 857.1,879.4 863.7,880.4 870.3,881.4 876.9,882.5 883.4,884.2 890.0,885.9 896.6,887.9 903.2,889.4 909.7,890.4 916.3,891.3 922.9,892.4 929.5,893.3 936.0,894.0 942.6,894.6 949.2,895.6 955.8,896.7 962.3,897.9 968.9,899.2 975.5,900.1 982.1,900.8 988.6,901.5 995.2,902.0 1001.8,902.4 1008.4,902.5 1015.0,902.1 1021.5,901.5 1028.1,900.7 1034.7,899.5 1041.3,898.1 1047.8,896.4 1054.4,895.0 1061.0,893.9 1067.6,893.0 1074.1,892.0 1080.7,891.1 1087.3,890.6 1093.9,890.3 1100.4,890.2 1107.0,890.7 1113.6,891.4 1120.2,892.1 1126.7,893.2 1133.3,894.4 1139.9,895.5 1146.5,896.3 1153.0,896.9 1159.6,897.4 1166.2,897.5 1172.8,897.1 1179.4,896.3 1185.9,895.6 1192.5,894.9 1199.1,894.3 1205.7,894.1 1212.2,894.1" fill="none" stroke="#f23645" stroke-width="1.5" stroke-linejoin="round"/>
</g>
<text x="26.1" y="851.6" font-size="17.2" fill="#131722" textLength="166.2" lengthAdjust="spacingAndGlyphs">MACD (12, 26, close)</text>
<text x="203.2" y="851.6" font-size="17.2" fill="#b2dfdb" textLength="55.5" lengthAdjust="spacingAndGlyphs">0.0002</text>
<text x="269.1" y="851.6" font-size="17.2" fill="#2962ff" textLength="66.9" lengthAdjust="spacingAndGlyphs">−0.0058</text>
<text x="346.4" y="851.6" font-size="17.2" fill="#f23645" textLength="66.7" lengthAdjust="spacingAndGlyphs">−0.0059</text>
<text x="142.5" y="949.4" font-size="16.3" fill="#131722" font-weight="bold" textLength="35.2" lengthAdjust="spacingAndGlyphs">May</text>
<text x="348.1" y="949.4" font-size="16.3" fill="#131722" font-weight="bold" textLength="31.7" lengthAdjust="spacingAndGlyphs">Jun</text>
<text x="548.7" y="949.4" font-size="16.3" fill="#131722" font-weight="bold" textLength="25.0" lengthAdjust="spacingAndGlyphs">Jul</text>
<text x="748.5" y="949.4" font-size="16.3" fill="#131722" font-weight="bold" textLength="33.2" lengthAdjust="spacingAndGlyphs">Aug</text>
<text x="953.0" y="949.4" font-size="16.3" fill="#131722" font-weight="bold" textLength="31.9" lengthAdjust="spacingAndGlyphs">Sep</text>
<text x="1150.9" y="949.4" font-size="16.3" fill="#131722" font-weight="bold" textLength="30.6" lengthAdjust="spacingAndGlyphs">Oct</text>
<text x="1353.4" y="949.4" font-size="16.3" fill="#131722" font-weight="bold" textLength="33.1" lengthAdjust="spacingAndGlyphs">Nov</text>
<rect x="1426.5" y="44.5" width="89" height="35.5" rx="6" fill="#fff" stroke="#e0e3eb"/>
<text x="1439.0" y="68.1" font-size="16.3" fill="#131722" textLength="45.0" lengthAdjust="spacingAndGlyphs">USDT</text>
<text x="1433.9" y="100.0" font-size="16.6" fill="#131722" textLength="56.4" lengthAdjust="spacingAndGlyphs">3.8000</text>
<text x="1433.9" y="150.0" font-size="16.6" fill="#131722" textLength="56.4" lengthAdjust="spacingAndGlyphs">3.6000</text>
<text x="1433.9" y="299.0" font-size="16.6" fill="#131722" textLength="56.4" lengthAdjust="spacingAndGlyphs">3.0000</text>
<text x="1433.9" y="499.0" font-size="16.6" fill="#131722" textLength="56.4" lengthAdjust="spacingAndGlyphs">2.2000</text>
<text x="1433.9" y="548.0" font-size="16.6" fill="#131722" textLength="56.4" lengthAdjust="spacingAndGlyphs">2.0000</text>
<path d="M1421.8,116.1 H1496 Q1499,116.1 1499,119.1 V136.8 Q1499,139.8 1496,139.8 H1421.8 Z" fill="#000"/>
<text x="1433.9" y="133.9" font-size="16.6" fill="#fff" textLength="56.4" lengthAdjust="spacingAndGlyphs">3.6640</text>
<path d="M1421.8,185.7 H1496 Q1499,185.7 1499,188.7 V206 Q1499,209 1496,209 H1421.8 Z" fill="#e040fb"/>
<text x="1433.9" y="203.3" font-size="16.6" fill="#fff" textLength="56.4" lengthAdjust="spacingAndGlyphs">3.3829</text>
<path d="M1421.8,233.8 H1496 Q1499,233.8 1499,236.8 V254.2 Q1499,257.2 1496,257.2 H1421.8 Z" fill="#9e9e9e"/>
<text x="1433.9" y="251.5" font-size="16.6" fill="#131722" textLength="56.4" lengthAdjust="spacingAndGlyphs">3.1897</text>
<path d="M1421.8,289.2 H1496 Q1499,289.2 1499,292.2 V309.7 Q1499,312.7 1496,312.7 H1421.8 Z" fill="#ff2424"/>
<text x="1433.9" y="306.9" font-size="16.6" fill="#fff" textLength="56.4" lengthAdjust="spacingAndGlyphs">2.9302</text>
<path d="M1421.8,313.6 H1512 Q1515,313.6 1515,316.6 V353.6 Q1515,356.6 1512,356.6 H1421.8 Z" fill="#26a69a"/>
<text x="1433.9" y="331.1" font-size="16.6" fill="#fff" textLength="56.4" lengthAdjust="spacingAndGlyphs">2.8705</text>
<text x="1433.9" y="350.5" font-size="16.6" fill="#fff" textLength="72.7" lengthAdjust="spacingAndGlyphs" fill-opacity="0.8">13:37:19</text>
<path d="M1421.8,357.2 H1496 Q1499,357.2 1499,360.2 V377.5 Q1499,380.5 1496,380.5 H1421.8 Z" fill="#2962ff"/>
<text x="1433.9" y="374.9" font-size="16.6" fill="#fff" textLength="56.4" lengthAdjust="spacingAndGlyphs">2.8542</text>
<path d="M1421.8,381.4 H1496 Q1499,381.4 1499,384.4 V401.3 Q1499,404.3 1496,404.3 H1421.8 Z" fill="#9c27b0"/>
<text x="1433.9" y="398.9" font-size="16.6" fill="#fff" textLength="56.4" lengthAdjust="spacingAndGlyphs">2.6392</text>
<path d="M1421.8,430.7 H1496 Q1499,430.7 1499,433.7 V450.5 Q1499,453.5 1496,453.5 H1421.8 Z" fill="#e040fb"/>
<text x="1433.9" y="448.1" font-size="16.6" fill="#fff" textLength="56.4" lengthAdjust="spacingAndGlyphs">2.4011</text>
<path d="M1421.8,548.9 H1501 Q1504,548.9 1504,551.9 V569 Q1504,572 1501,572 H1421.8 Z" fill="#26a69a"/>
<text x="1433.9" y="566.5" font-size="16.6" fill="#fff" textLength="62.9" lengthAdjust="spacingAndGlyphs">40.79 M</text>
<text x="1433.3" y="634.2" font-size="16.6" fill="#131722" textLength="47.3" lengthAdjust="spacingAndGlyphs">80.00</text>
<text x="1433.3" y="703.4" font-size="16.6" fill="#131722" textLength="47.3" lengthAdjust="spacingAndGlyphs">60.00</text>
<text x="1433.3" y="772.6" font-size="16.6" fill="#131722" textLength="47.3" lengthAdjust="spacingAndGlyphs">40.00</text>
<path d="M1421.8,710.7 H1485 Q1488,710.7 1488,713.7 V730.7 Q1488,733.7 1485,733.7 H1421.8 Z" fill="#fdd835"/>
<text x="1433.9" y="728.2" font-size="16.6" fill="#131722" textLength="46.8" lengthAdjust="spacingAndGlyphs">48.24</text>
<path d="M1421.8,735.2 H1485 Q1488,735.2 1488,738.2 V754.8 Q1488,757.8 1485,757.8 H1421.8 Z" fill="#7e57c2"/>
<text x="1433.9" y="752.5" font-size="16.6" fill="#fff" textLength="46.8" lengthAdjust="spacingAndGlyphs">45.77</text>
<g clip-path="url(#ca)">
<path d="M1421.8,881.2 H1496 Q1499,881.2 1499,884.2 V901.4 Q1499,904.4 1496,904.4 H1421.8 Z" fill="#b2dfdb"/>
<text x="1433.9" y="898.8" font-size="16.6" fill="#131722" textLength="56.4" lengthAdjust="spacingAndGlyphs">0.0002</text>
<path d="M1421.8,905.7 H1506 Q1509,905.7 1509,908.7 V925.8 Q1509,928.8 1506,928.8 H1421.8 Z" fill="#2962ff"/>
<text x="1433.9" y="923.2" font-size="16.6" fill="#fff" textLength="67.5" lengthAdjust="spacingAndGlyphs">−0.0058</text>
</g>
<g fill="#131722"><path d="M17,993.1 H34.0 V1014.0 H25.2 V1001.3 H17 Z"/><circle cx="40.8" cy="997.3" r="4.0"/><path d="M49.3,993.1 H59.1 L50.9,1014.0 H41.2 Z"/></g>
<g fill="#131722"><path d="M69.2,993.2 H84.5 V997.1 H78.6 V1014.1 H74.8 V997.1 H69.2 Z"/><path d="M84.7,1014.1 V998.8 H88.5 V1001.0 C89.6,999.6 91.4,998.8 93.6,998.8 V1002.6 C90.5,1002.6 88.5,1004.4 88.5,1007.6 V1014.1 Z"/><path fill-rule="evenodd" d="M94.25,1006.40 A7.9,7.9 0 1 0 110.05,1006.40 A7.9,7.9 0 1 0 94.25,1006.40 Z M98.00,1006.40 A4.15,4.15 0 1 1 106.30,1006.40 A4.15,4.15 0 1 1 98.00,1006.40 Z"/><rect x="106.1" y="998.6" width="3.9" height="15.5"/><path fill-rule="evenodd" d="M112.75,1006.40 A7.75,7.75 0 1 0 128.25,1006.40 A7.75,7.75 0 1 0 112.75,1006.40 Z M116.50,1006.40 A4.0,4.0 0 1 1 124.50,1006.40 A4.0,4.0 0 1 1 116.50,1006.40 Z"/><rect x="124.35" y="993.2" width="3.85" height="20.9"/><rect x="131.3" y="998.8" width="3.8" height="15.3"/><circle cx="133.2" cy="994.9" r="2.55"/><rect x="138.1" y="998.8" width="3.8" height="15.3"/><path d="M138.1,1014.1 V1005.5 A7,7 0 0 1 152.1,1005.5 V1014.1 H148.4 V1005.5 A3.25,3.25 0 0 0 141.9,1005.5 V1014.1 Z"/><path fill-rule="evenodd" d="M155.10,1006.30 A7.65,7.65 0 1 0 170.40,1006.30 A7.65,7.65 0 1 0 155.10,1006.30 Z M158.85,1006.30 A3.9,3.9 0 1 1 166.65,1006.30 A3.9,3.9 0 1 1 158.85,1006.30 Z"/><rect x="166.6" y="998.8" width="3.8" height="15.9"/><path d="M170.4,1014.5 C170.4,1019.0 167.6,1021.0 163.4,1021.0 C160.6,1021.0 158.4,1020.0 156.4,1018.3 L158.9,1015.6 C160.2,1016.9 161.6,1017.5 163.4,1017.5 C165.5,1017.5 166.6,1016.4 166.6,1014.5 Z"/><path d="M170.4,993.1 H174.9 L180.65,1009.4 L186.5,993.1 H191.3 L182.6,1014.1 H178.7 Z"/><rect x="193.2" y="999.0" width="3.9" height="15.1"/><circle cx="195.2" cy="994.9" r="2.6"/><path fill-rule="evenodd" d="M200.15,1006.30 A7.95,7.95 0 1 0 216.05,1006.30 A7.95,7.95 0 1 0 200.15,1006.30 Z M203.95,1006.30 A4.15,4.15 0 1 1 212.25,1006.30 A4.15,4.15 0 1 1 203.95,1006.30 Z"/><rect x="211.6" y="1007.7" width="5.5" height="1.9" fill="#fff"/><rect x="204.0" y="1004.8" width="12.05" height="2.95"/><path d="M215.9,999.1 L220.5,999.1 L223.0,1008.6 L225.7,999.1 L229.6,999.1 L232.2,1008.6 L234.9,999.1 L239.5,999.1 L235.0,1014.1 L231.3,1014.1 L227.65,1003.6 L224.4,1014.1 L220.8,1014.1 Z"/></g>
</svg></body></html>
